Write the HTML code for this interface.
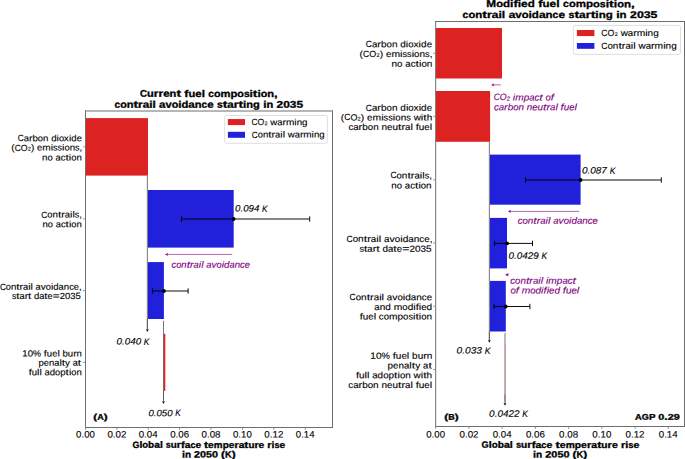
<!DOCTYPE html>
<html><head><meta charset="utf-8"><title>Contrail avoidance chart</title>
<style>html,body{margin:0;padding:0;background:#fff;}svg{display:block;font-family:"Liberation Sans",sans-serif;text-rendering:geometricPrecision;}text{stroke-width:0.12px;paint-order:stroke;}text[font-weight=bold]{stroke-width:0.3px;}</style>
</head><body>
<svg width="685" height="459" viewBox="0 0 685 459" font-family="Liberation Sans, sans-serif"><rect x="85.50" y="118.10" width="62.50" height="57.50" fill="#dd2222"/>
<line x1="147.35" y1="175.60" x2="147.35" y2="330.00" stroke="#777" stroke-width="1.0" />
<rect x="147.90" y="190.00" width="85.80" height="57.60" fill="#2121dc"/>
<line x1="181.50" y1="219.00" x2="309.70" y2="219.00" stroke="#000" stroke-width="0.95" />
<line x1="181.50" y1="216.30" x2="181.50" y2="221.70" stroke="#000" stroke-width="0.95" />
<line x1="309.70" y1="216.30" x2="309.70" y2="221.70" stroke="#000" stroke-width="0.95" />
<circle cx="233.60" cy="219.00" r="1.9" fill="#000"/>
<line x1="232.20" y1="254.40" x2="166.92" y2="254.40" stroke="#800080" stroke-width="0.6" />
<path d="M165.00,254.40 L168.20,252.70 L167.24,254.40 L168.20,256.10 Z" fill="#800080"/>
<rect x="147.90" y="262.10" width="16.00" height="56.90" fill="#2121dc"/>
<line x1="152.40" y1="291.00" x2="188.10" y2="291.00" stroke="#000" stroke-width="0.95" />
<line x1="152.40" y1="288.30" x2="152.40" y2="293.70" stroke="#000" stroke-width="0.95" />
<line x1="188.10" y1="288.30" x2="188.10" y2="293.70" stroke="#000" stroke-width="0.95" />
<circle cx="163.90" cy="291.00" r="1.9" fill="#000"/>
<line x1="147.35" y1="319.00" x2="147.35" y2="330.30" stroke="#555" stroke-width="0.8" />
<path d="M147.35,332.10 L145.85,329.10 L147.35,330.00 L148.85,329.10 Z" fill="#000"/>
<line x1="163.50" y1="320.80" x2="163.50" y2="400.00" stroke="#555" stroke-width="0.8" />
<rect x="163.80" y="333.80" width="1.50" height="57.10" fill="#dd2222"/>
<line x1="163.50" y1="390.90" x2="163.50" y2="402.30" stroke="#555" stroke-width="0.8" />
<path d="M163.50,404.10 L162.00,401.10 L163.50,402.00 L165.00,401.10 Z" fill="#000"/>
<rect x="224.7" y="115.5" width="102.7" height="27.8" rx="1.8" fill="#fff" fill-opacity="0.8" stroke="#d6d6d6" stroke-width="0.8"/>
<rect x="227.90" y="119.05" width="17.10" height="6.05" fill="#dd2222"/>
<rect x="227.90" y="131.80" width="17.10" height="6.00" fill="#2121dc"/>
<rect x="435.70" y="28.00" width="66.30" height="50.50" fill="#dd2222"/>
<line x1="500.90" y1="84.90" x2="493.02" y2="84.90" stroke="#800080" stroke-width="0.6" />
<path d="M491.10,84.90 L494.30,83.20 L493.34,84.90 L494.30,86.60 Z" fill="#800080"/>
<rect x="435.70" y="91.00" width="54.40" height="50.80" fill="#dd2222"/>
<line x1="489.35" y1="141.80" x2="489.35" y2="340.00" stroke="#777" stroke-width="1.0" />
<rect x="489.95" y="154.60" width="90.65" height="50.10" fill="#2121dc"/>
<line x1="525.50" y1="180.00" x2="661.30" y2="180.00" stroke="#000" stroke-width="0.95" />
<line x1="525.50" y1="177.30" x2="525.50" y2="182.70" stroke="#000" stroke-width="0.95" />
<line x1="661.30" y1="177.30" x2="661.30" y2="182.70" stroke="#000" stroke-width="0.95" />
<circle cx="580.60" cy="180.00" r="1.9" fill="#000"/>
<line x1="579.20" y1="211.40" x2="509.82" y2="211.40" stroke="#800080" stroke-width="0.6" />
<path d="M507.90,211.40 L511.10,209.70 L510.14,211.40 L511.10,213.10 Z" fill="#800080"/>
<rect x="489.95" y="217.90" width="17.05" height="50.50" fill="#2121dc"/>
<line x1="494.50" y1="243.40" x2="532.50" y2="243.40" stroke="#000" stroke-width="0.95" />
<line x1="494.50" y1="240.70" x2="494.50" y2="246.10" stroke="#000" stroke-width="0.95" />
<line x1="532.50" y1="240.70" x2="532.50" y2="246.10" stroke="#000" stroke-width="0.95" />
<circle cx="507.00" cy="243.40" r="1.9" fill="#000"/>
<line x1="508.90" y1="274.70" x2="507.16" y2="274.70" stroke="#800080" stroke-width="0.6" />
<path d="M505.00,274.70 L508.60,272.90 L507.52,274.70 L508.60,276.50 Z" fill="#800080"/>
<rect x="489.95" y="280.90" width="15.85" height="50.60" fill="#2121dc"/>
<line x1="494.00" y1="306.50" x2="529.90" y2="306.50" stroke="#000" stroke-width="0.95" />
<line x1="494.00" y1="303.80" x2="494.00" y2="309.20" stroke="#000" stroke-width="0.95" />
<line x1="529.90" y1="303.80" x2="529.90" y2="309.20" stroke="#000" stroke-width="0.95" />
<circle cx="505.70" cy="306.50" r="1.9" fill="#000"/>
<line x1="489.35" y1="331.50" x2="489.35" y2="341.00" stroke="#555" stroke-width="0.8" />
<path d="M489.35,342.80 L487.85,339.80 L489.35,340.70 L490.85,339.80 Z" fill="#000"/>
<line x1="505.00" y1="333.10" x2="505.00" y2="402.00" stroke="#555" stroke-width="0.8" />
<rect x="505.50" y="344.30" width="0.50" height="50.40" fill="#e86a6a"/>
<line x1="505.00" y1="394.70" x2="505.00" y2="403.90" stroke="#555" stroke-width="0.8" />
<path d="M505.00,405.70 L503.50,402.70 L505.00,403.60 L506.50,402.70 Z" fill="#000"/>
<rect x="573.4" y="25.4" width="107.1" height="29.0" rx="1.8" fill="#fff" fill-opacity="0.8" stroke="#d6d6d6" stroke-width="0.8"/>
<rect x="576.90" y="30.00" width="17.50" height="6.10" fill="#dd2222"/>
<rect x="576.90" y="43.00" width="17.50" height="5.80" fill="#2121dc"/>
<line x1="85.50" y1="110.50" x2="85.50" y2="428.00" stroke="#6e6e6e" stroke-width="1.0" />
<line x1="332.50" y1="110.50" x2="332.50" y2="428.00" stroke="#6e6e6e" stroke-width="1.0" />
<line x1="85.00" y1="111.00" x2="333.00" y2="111.00" stroke="#6e6e6e" stroke-width="1.0" />
<line x1="85.00" y1="427.50" x2="333.00" y2="427.50" stroke="#6e6e6e" stroke-width="1.0" />
<line x1="85.50" y1="428.00" x2="85.50" y2="429.90" stroke="#888" stroke-width="0.9" />
<line x1="116.89" y1="428.00" x2="116.89" y2="429.90" stroke="#888" stroke-width="0.9" />
<line x1="148.28" y1="428.00" x2="148.28" y2="429.90" stroke="#888" stroke-width="0.9" />
<line x1="179.67" y1="428.00" x2="179.67" y2="429.90" stroke="#888" stroke-width="0.9" />
<line x1="211.06" y1="428.00" x2="211.06" y2="429.90" stroke="#888" stroke-width="0.9" />
<line x1="242.45" y1="428.00" x2="242.45" y2="429.90" stroke="#888" stroke-width="0.9" />
<line x1="273.84" y1="428.00" x2="273.84" y2="429.90" stroke="#888" stroke-width="0.9" />
<line x1="305.23" y1="428.00" x2="305.23" y2="429.90" stroke="#888" stroke-width="0.9" />
<line x1="83.10" y1="146.85" x2="85.00" y2="146.85" stroke="#888" stroke-width="0.9" />
<line x1="83.10" y1="218.80" x2="85.00" y2="218.80" stroke="#888" stroke-width="0.9" />
<line x1="83.10" y1="290.60" x2="85.00" y2="290.60" stroke="#888" stroke-width="0.9" />
<line x1="83.10" y1="362.40" x2="85.00" y2="362.40" stroke="#888" stroke-width="0.9" />
<line x1="435.70" y1="21.00" x2="435.70" y2="427.00" stroke="#6e6e6e" stroke-width="1.0" />
<line x1="684.50" y1="21.00" x2="684.50" y2="427.00" stroke="#6e6e6e" stroke-width="1.0" />
<line x1="435.20" y1="21.50" x2="685.00" y2="21.50" stroke="#6e6e6e" stroke-width="1.0" />
<line x1="435.20" y1="426.50" x2="685.00" y2="426.50" stroke="#6e6e6e" stroke-width="1.0" />
<line x1="435.70" y1="427.00" x2="435.70" y2="428.90" stroke="#888" stroke-width="0.9" />
<line x1="468.93" y1="427.00" x2="468.93" y2="428.90" stroke="#888" stroke-width="0.9" />
<line x1="502.16" y1="427.00" x2="502.16" y2="428.90" stroke="#888" stroke-width="0.9" />
<line x1="535.39" y1="427.00" x2="535.39" y2="428.90" stroke="#888" stroke-width="0.9" />
<line x1="568.62" y1="427.00" x2="568.62" y2="428.90" stroke="#888" stroke-width="0.9" />
<line x1="601.85" y1="427.00" x2="601.85" y2="428.90" stroke="#888" stroke-width="0.9" />
<line x1="635.08" y1="427.00" x2="635.08" y2="428.90" stroke="#888" stroke-width="0.9" />
<line x1="668.31" y1="427.00" x2="668.31" y2="428.90" stroke="#888" stroke-width="0.9" />
<line x1="433.30" y1="53.30" x2="435.20" y2="53.30" stroke="#888" stroke-width="0.9" />
<line x1="433.30" y1="116.40" x2="435.20" y2="116.40" stroke="#888" stroke-width="0.9" />
<line x1="433.30" y1="179.75" x2="435.20" y2="179.75" stroke="#888" stroke-width="0.9" />
<line x1="433.30" y1="242.95" x2="435.20" y2="242.95" stroke="#888" stroke-width="0.9" />
<line x1="433.30" y1="306.20" x2="435.20" y2="306.20" stroke="#888" stroke-width="0.9" />
<line x1="433.30" y1="369.50" x2="435.20" y2="369.50" stroke="#888" stroke-width="0.9" />
<text transform="matrix(1,0.0005,0,1,0,-0.1043)" y="96.90" font-size="9.8" font-weight="bold" font-style="normal" fill="#000" stroke="#000"><tspan x="139.92" textLength="7.01" lengthAdjust="spacingAndGlyphs">C</tspan><tspan x="146.93" textLength="6.80" lengthAdjust="spacingAndGlyphs">u</tspan><tspan x="153.73" textLength="4.71" lengthAdjust="spacingAndGlyphs">r</tspan><tspan x="158.44" textLength="4.71" lengthAdjust="spacingAndGlyphs">r</tspan><tspan x="163.15" textLength="6.48" lengthAdjust="spacingAndGlyphs">e</tspan><tspan x="169.63" textLength="6.80" lengthAdjust="spacingAndGlyphs">n</tspan><tspan x="176.43" textLength="4.57" lengthAdjust="spacingAndGlyphs">t</tspan> <tspan x="184.32" textLength="4.16" lengthAdjust="spacingAndGlyphs">f</tspan><tspan x="188.48" textLength="6.80" lengthAdjust="spacingAndGlyphs">u</tspan><tspan x="195.28" textLength="6.48" lengthAdjust="spacingAndGlyphs">e</tspan><tspan x="201.76" textLength="3.27" lengthAdjust="spacingAndGlyphs">l</tspan> <tspan x="208.36" textLength="5.66" lengthAdjust="spacingAndGlyphs">c</tspan><tspan x="214.02" textLength="6.56" lengthAdjust="spacingAndGlyphs">o</tspan><tspan x="220.58" textLength="9.95" lengthAdjust="spacingAndGlyphs">m</tspan><tspan x="230.54" textLength="6.84" lengthAdjust="spacingAndGlyphs">p</tspan><tspan x="237.37" textLength="6.56" lengthAdjust="spacingAndGlyphs">o</tspan><tspan x="243.94" textLength="5.69" lengthAdjust="spacingAndGlyphs">s</tspan><tspan x="249.62" textLength="3.27" lengthAdjust="spacingAndGlyphs">i</tspan><tspan x="252.89" textLength="4.57" lengthAdjust="spacingAndGlyphs">t</tspan><tspan x="257.46" textLength="3.27" lengthAdjust="spacingAndGlyphs">i</tspan><tspan x="260.73" textLength="6.56" lengthAdjust="spacingAndGlyphs">o</tspan><tspan x="267.30" textLength="6.80" lengthAdjust="spacingAndGlyphs">n</tspan><tspan x="274.10" textLength="3.63" lengthAdjust="spacingAndGlyphs">,</tspan></text>
<text transform="matrix(1,0.0005,0,1,0,-0.1044)" y="107.70" font-size="9.8" font-weight="bold" font-style="normal" fill="#000" stroke="#000"><tspan x="114.49" textLength="5.66" lengthAdjust="spacingAndGlyphs">c</tspan><tspan x="120.15" textLength="6.56" lengthAdjust="spacingAndGlyphs">o</tspan><tspan x="126.70" textLength="6.79" lengthAdjust="spacingAndGlyphs">n</tspan><tspan x="133.49" textLength="4.56" lengthAdjust="spacingAndGlyphs">t</tspan><tspan x="138.06" textLength="4.71" lengthAdjust="spacingAndGlyphs">r</tspan><tspan x="142.76" textLength="6.44" lengthAdjust="spacingAndGlyphs">a</tspan><tspan x="149.20" textLength="3.27" lengthAdjust="spacingAndGlyphs">i</tspan><tspan x="152.47" textLength="3.27" lengthAdjust="spacingAndGlyphs">l</tspan> <tspan x="159.06" textLength="6.44" lengthAdjust="spacingAndGlyphs">a</tspan><tspan x="165.50" textLength="6.22" lengthAdjust="spacingAndGlyphs">v</tspan><tspan x="171.72" textLength="6.56" lengthAdjust="spacingAndGlyphs">o</tspan><tspan x="178.28" textLength="3.27" lengthAdjust="spacingAndGlyphs">i</tspan><tspan x="181.55" textLength="6.83" lengthAdjust="spacingAndGlyphs">d</tspan><tspan x="188.38" textLength="6.44" lengthAdjust="spacingAndGlyphs">a</tspan><tspan x="194.82" textLength="6.79" lengthAdjust="spacingAndGlyphs">n</tspan><tspan x="201.61" textLength="5.66" lengthAdjust="spacingAndGlyphs">c</tspan><tspan x="207.27" textLength="6.47" lengthAdjust="spacingAndGlyphs">e</tspan> <tspan x="217.06" textLength="5.68" lengthAdjust="spacingAndGlyphs">s</tspan><tspan x="222.74" textLength="4.56" lengthAdjust="spacingAndGlyphs">t</tspan><tspan x="227.30" textLength="6.44" lengthAdjust="spacingAndGlyphs">a</tspan><tspan x="233.74" textLength="4.71" lengthAdjust="spacingAndGlyphs">r</tspan><tspan x="238.45" textLength="4.56" lengthAdjust="spacingAndGlyphs">t</tspan><tspan x="243.01" textLength="3.27" lengthAdjust="spacingAndGlyphs">i</tspan><tspan x="246.28" textLength="6.79" lengthAdjust="spacingAndGlyphs">n</tspan><tspan x="253.07" textLength="6.83" lengthAdjust="spacingAndGlyphs">g</tspan> <tspan x="263.23" textLength="3.27" lengthAdjust="spacingAndGlyphs">i</tspan><tspan x="266.50" textLength="6.79" lengthAdjust="spacingAndGlyphs">n</tspan> <tspan x="276.61" textLength="6.64" lengthAdjust="spacingAndGlyphs">2</tspan><tspan x="283.25" textLength="6.64" lengthAdjust="spacingAndGlyphs">0</tspan><tspan x="289.89" textLength="6.64" lengthAdjust="spacingAndGlyphs">3</tspan><tspan x="296.53" textLength="6.64" lengthAdjust="spacingAndGlyphs">5</tspan></text>
<text transform="matrix(1,0.0005,0,1,0,-0.2802)" y="7.10" font-size="9.8" font-weight="bold" font-style="normal" fill="#000" stroke="#000"><tspan x="486.39" textLength="9.82" lengthAdjust="spacingAndGlyphs">M</tspan><tspan x="496.21" textLength="6.78" lengthAdjust="spacingAndGlyphs">o</tspan><tspan x="502.99" textLength="7.06" lengthAdjust="spacingAndGlyphs">d</tspan><tspan x="510.05" textLength="3.38" lengthAdjust="spacingAndGlyphs">i</tspan><tspan x="513.43" textLength="4.29" lengthAdjust="spacingAndGlyphs">f</tspan><tspan x="517.72" textLength="3.38" lengthAdjust="spacingAndGlyphs">i</tspan><tspan x="521.10" textLength="6.69" lengthAdjust="spacingAndGlyphs">e</tspan><tspan x="527.79" textLength="7.06" lengthAdjust="spacingAndGlyphs">d</tspan> <tspan x="538.29" textLength="4.29" lengthAdjust="spacingAndGlyphs">f</tspan><tspan x="542.58" textLength="7.02" lengthAdjust="spacingAndGlyphs">u</tspan><tspan x="549.61" textLength="6.69" lengthAdjust="spacingAndGlyphs">e</tspan><tspan x="556.30" textLength="3.38" lengthAdjust="spacingAndGlyphs">l</tspan> <tspan x="563.11" textLength="5.85" lengthAdjust="spacingAndGlyphs">c</tspan><tspan x="568.96" textLength="6.78" lengthAdjust="spacingAndGlyphs">o</tspan><tspan x="575.74" textLength="10.28" lengthAdjust="spacingAndGlyphs">m</tspan><tspan x="586.02" textLength="7.06" lengthAdjust="spacingAndGlyphs">p</tspan><tspan x="593.08" textLength="6.78" lengthAdjust="spacingAndGlyphs">o</tspan><tspan x="599.86" textLength="5.87" lengthAdjust="spacingAndGlyphs">s</tspan><tspan x="605.73" textLength="3.38" lengthAdjust="spacingAndGlyphs">i</tspan><tspan x="609.11" textLength="4.72" lengthAdjust="spacingAndGlyphs">t</tspan><tspan x="613.83" textLength="3.38" lengthAdjust="spacingAndGlyphs">i</tspan><tspan x="617.21" textLength="6.78" lengthAdjust="spacingAndGlyphs">o</tspan><tspan x="623.99" textLength="7.02" lengthAdjust="spacingAndGlyphs">n</tspan><tspan x="631.01" textLength="3.75" lengthAdjust="spacingAndGlyphs">,</tspan></text>
<text transform="matrix(1,0.0005,0,1,0,-0.2801)" y="18.00" font-size="9.8" font-weight="bold" font-style="normal" fill="#000" stroke="#000"><tspan x="462.63" textLength="5.84" lengthAdjust="spacingAndGlyphs">c</tspan><tspan x="468.47" textLength="6.77" lengthAdjust="spacingAndGlyphs">o</tspan><tspan x="475.24" textLength="7.02" lengthAdjust="spacingAndGlyphs">n</tspan><tspan x="482.25" textLength="4.71" lengthAdjust="spacingAndGlyphs">t</tspan><tspan x="486.96" textLength="4.86" lengthAdjust="spacingAndGlyphs">r</tspan><tspan x="491.82" textLength="6.65" lengthAdjust="spacingAndGlyphs">a</tspan><tspan x="498.48" textLength="3.38" lengthAdjust="spacingAndGlyphs">i</tspan><tspan x="501.85" textLength="3.38" lengthAdjust="spacingAndGlyphs">l</tspan> <tspan x="508.66" textLength="6.65" lengthAdjust="spacingAndGlyphs">a</tspan><tspan x="515.31" textLength="6.42" lengthAdjust="spacingAndGlyphs">v</tspan><tspan x="521.74" textLength="6.77" lengthAdjust="spacingAndGlyphs">o</tspan><tspan x="528.51" textLength="3.38" lengthAdjust="spacingAndGlyphs">i</tspan><tspan x="531.88" textLength="7.05" lengthAdjust="spacingAndGlyphs">d</tspan><tspan x="538.94" textLength="6.65" lengthAdjust="spacingAndGlyphs">a</tspan><tspan x="545.59" textLength="7.02" lengthAdjust="spacingAndGlyphs">n</tspan><tspan x="552.60" textLength="5.84" lengthAdjust="spacingAndGlyphs">c</tspan><tspan x="558.45" textLength="6.68" lengthAdjust="spacingAndGlyphs">e</tspan> <tspan x="568.56" textLength="5.87" lengthAdjust="spacingAndGlyphs">s</tspan><tspan x="574.43" textLength="4.71" lengthAdjust="spacingAndGlyphs">t</tspan><tspan x="579.14" textLength="6.65" lengthAdjust="spacingAndGlyphs">a</tspan><tspan x="585.79" textLength="4.86" lengthAdjust="spacingAndGlyphs">r</tspan><tspan x="590.65" textLength="4.71" lengthAdjust="spacingAndGlyphs">t</tspan><tspan x="595.36" textLength="3.38" lengthAdjust="spacingAndGlyphs">i</tspan><tspan x="598.74" textLength="7.02" lengthAdjust="spacingAndGlyphs">n</tspan><tspan x="605.75" textLength="7.05" lengthAdjust="spacingAndGlyphs">g</tspan> <tspan x="616.24" textLength="3.38" lengthAdjust="spacingAndGlyphs">i</tspan><tspan x="619.62" textLength="7.02" lengthAdjust="spacingAndGlyphs">n</tspan> <tspan x="630.06" textLength="6.86" lengthAdjust="spacingAndGlyphs">2</tspan><tspan x="636.92" textLength="6.86" lengthAdjust="spacingAndGlyphs">0</tspan><tspan x="643.78" textLength="6.86" lengthAdjust="spacingAndGlyphs">3</tspan><tspan x="650.63" textLength="6.86" lengthAdjust="spacingAndGlyphs">5</tspan></text>
<text transform="matrix(1,0.0005,0,1,0,-0.1398)" y="125.20" font-size="9.0" font-weight="normal" font-style="normal" fill="#000" stroke="#000"><tspan x="251.52" textLength="5.97" lengthAdjust="spacingAndGlyphs">C</tspan><tspan x="257.49" textLength="6.73" lengthAdjust="spacingAndGlyphs">O</tspan><tspan x="264.44" font-size="5.40">2</tspan> <tspan x="270.37" textLength="6.99" lengthAdjust="spacingAndGlyphs">w</tspan><tspan x="277.36" textLength="5.24" lengthAdjust="spacingAndGlyphs">a</tspan><tspan x="282.61" textLength="3.52" lengthAdjust="spacingAndGlyphs">r</tspan><tspan x="285.97" textLength="8.33" lengthAdjust="spacingAndGlyphs">m</tspan><tspan x="294.30" textLength="2.38" lengthAdjust="spacingAndGlyphs">i</tspan><tspan x="296.68" textLength="5.42" lengthAdjust="spacingAndGlyphs">n</tspan><tspan x="302.10" textLength="5.43" lengthAdjust="spacingAndGlyphs">g</tspan></text>
<text transform="matrix(1,0.0005,0,1,0,-0.1440)" y="137.60" font-size="9.0" font-weight="normal" font-style="normal" fill="#000" stroke="#000"><tspan x="251.77" textLength="5.94" lengthAdjust="spacingAndGlyphs">C</tspan><tspan x="257.71" textLength="5.20" lengthAdjust="spacingAndGlyphs">o</tspan><tspan x="262.91" textLength="5.39" lengthAdjust="spacingAndGlyphs">n</tspan><tspan x="268.30" textLength="3.33" lengthAdjust="spacingAndGlyphs">t</tspan><tspan x="271.64" textLength="3.50" lengthAdjust="spacingAndGlyphs">r</tspan><tspan x="275.13" textLength="5.21" lengthAdjust="spacingAndGlyphs">a</tspan><tspan x="280.34" textLength="2.36" lengthAdjust="spacingAndGlyphs">i</tspan><tspan x="282.71" textLength="2.36" lengthAdjust="spacingAndGlyphs">l</tspan> <tspan x="287.77" textLength="6.96" lengthAdjust="spacingAndGlyphs">w</tspan><tspan x="294.73" textLength="5.21" lengthAdjust="spacingAndGlyphs">a</tspan><tspan x="299.94" textLength="3.50" lengthAdjust="spacingAndGlyphs">r</tspan><tspan x="303.29" textLength="8.28" lengthAdjust="spacingAndGlyphs">m</tspan><tspan x="311.57" textLength="2.36" lengthAdjust="spacingAndGlyphs">i</tspan><tspan x="313.94" textLength="5.39" lengthAdjust="spacingAndGlyphs">n</tspan><tspan x="319.33" textLength="5.40" lengthAdjust="spacingAndGlyphs">g</tspan></text>
<text transform="matrix(1,0.0005,0,1,0,-0.3150)" y="36.00" font-size="9.0" font-weight="normal" font-style="normal" fill="#000" stroke="#000"><tspan x="601.36" textLength="6.12" lengthAdjust="spacingAndGlyphs">C</tspan><tspan x="607.48" textLength="6.90" lengthAdjust="spacingAndGlyphs">O</tspan><tspan x="614.63" font-size="5.40">2</tspan> <tspan x="620.67" textLength="7.17" lengthAdjust="spacingAndGlyphs">w</tspan><tspan x="627.84" textLength="5.37" lengthAdjust="spacingAndGlyphs">a</tspan><tspan x="633.21" textLength="3.60" lengthAdjust="spacingAndGlyphs">r</tspan><tspan x="636.66" textLength="8.54" lengthAdjust="spacingAndGlyphs">m</tspan><tspan x="645.20" textLength="2.43" lengthAdjust="spacingAndGlyphs">i</tspan><tspan x="647.63" textLength="5.55" lengthAdjust="spacingAndGlyphs">n</tspan><tspan x="653.18" textLength="5.56" lengthAdjust="spacingAndGlyphs">g</tspan></text>
<text transform="matrix(1,0.0005,0,1,0,-0.3195)" y="48.80" font-size="9.0" font-weight="normal" font-style="normal" fill="#000" stroke="#000"><tspan x="601.36" textLength="6.14" lengthAdjust="spacingAndGlyphs">C</tspan><tspan x="607.49" textLength="5.38" lengthAdjust="spacingAndGlyphs">o</tspan><tspan x="612.87" textLength="5.57" lengthAdjust="spacingAndGlyphs">n</tspan><tspan x="618.44" textLength="3.45" lengthAdjust="spacingAndGlyphs">t</tspan><tspan x="621.89" textLength="3.61" lengthAdjust="spacingAndGlyphs">r</tspan><tspan x="625.50" textLength="5.39" lengthAdjust="spacingAndGlyphs">a</tspan><tspan x="630.89" textLength="2.44" lengthAdjust="spacingAndGlyphs">i</tspan><tspan x="633.33" textLength="2.44" lengthAdjust="spacingAndGlyphs">l</tspan> <tspan x="638.56" textLength="7.19" lengthAdjust="spacingAndGlyphs">w</tspan><tspan x="645.75" textLength="5.39" lengthAdjust="spacingAndGlyphs">a</tspan><tspan x="651.14" textLength="3.61" lengthAdjust="spacingAndGlyphs">r</tspan><tspan x="654.60" textLength="8.56" lengthAdjust="spacingAndGlyphs">m</tspan><tspan x="663.16" textLength="2.44" lengthAdjust="spacingAndGlyphs">i</tspan><tspan x="665.60" textLength="5.57" lengthAdjust="spacingAndGlyphs">n</tspan><tspan x="671.17" textLength="5.58" lengthAdjust="spacingAndGlyphs">g</tspan></text>
<text transform="matrix(1,0.0005,0,1,0,-0.0249)" y="141.30" font-size="9.0" font-weight="normal" font-style="normal" fill="#000" stroke="#000"><tspan x="17.77" textLength="5.95" lengthAdjust="spacingAndGlyphs">C</tspan><tspan x="23.72" textLength="5.22" lengthAdjust="spacingAndGlyphs">a</tspan><tspan x="28.94" textLength="3.50" lengthAdjust="spacingAndGlyphs">r</tspan><tspan x="32.44" textLength="5.41" lengthAdjust="spacingAndGlyphs">b</tspan><tspan x="37.85" textLength="5.21" lengthAdjust="spacingAndGlyphs">o</tspan><tspan x="43.06" textLength="5.40" lengthAdjust="spacingAndGlyphs">n</tspan> <tspan x="51.17" textLength="5.41" lengthAdjust="spacingAndGlyphs">d</tspan><tspan x="56.58" textLength="2.37" lengthAdjust="spacingAndGlyphs">i</tspan><tspan x="58.95" textLength="5.21" lengthAdjust="spacingAndGlyphs">o</tspan><tspan x="63.89" textLength="5.04" lengthAdjust="spacingAndGlyphs">x</tspan><tspan x="68.94" textLength="2.37" lengthAdjust="spacingAndGlyphs">i</tspan><tspan x="71.30" textLength="5.41" lengthAdjust="spacingAndGlyphs">d</tspan><tspan x="76.71" textLength="5.24" lengthAdjust="spacingAndGlyphs">e</tspan></text>
<text transform="matrix(1,0.0005,0,1,0,-0.0234)" y="150.60" font-size="9.0" font-weight="normal" font-style="normal" fill="#000" stroke="#000"><tspan x="11.31" textLength="3.36" lengthAdjust="spacingAndGlyphs">(</tspan><tspan x="14.67" textLength="6.01" lengthAdjust="spacingAndGlyphs">C</tspan><tspan x="20.67" textLength="6.77" lengthAdjust="spacingAndGlyphs">O</tspan><tspan x="27.67" font-size="5.40">2</tspan><tspan x="30.90" textLength="3.36" lengthAdjust="spacingAndGlyphs">)</tspan> <tspan x="36.99" textLength="5.29" lengthAdjust="spacingAndGlyphs">e</tspan><tspan x="42.28" textLength="8.38" lengthAdjust="spacingAndGlyphs">m</tspan><tspan x="50.66" textLength="2.39" lengthAdjust="spacingAndGlyphs">i</tspan><tspan x="53.05" textLength="4.48" lengthAdjust="spacingAndGlyphs">s</tspan><tspan x="57.53" textLength="4.48" lengthAdjust="spacingAndGlyphs">s</tspan><tspan x="62.02" textLength="2.39" lengthAdjust="spacingAndGlyphs">i</tspan><tspan x="64.41" textLength="5.26" lengthAdjust="spacingAndGlyphs">o</tspan><tspan x="69.67" textLength="5.45" lengthAdjust="spacingAndGlyphs">n</tspan><tspan x="75.12" textLength="4.48" lengthAdjust="spacingAndGlyphs">s</tspan><tspan x="79.61" textLength="2.73" lengthAdjust="spacingAndGlyphs">,</tspan></text>
<text transform="matrix(1,0.0005,0,1,0,-0.0310)" y="160.40" font-size="9.0" font-weight="normal" font-style="normal" fill="#000" stroke="#000"><tspan x="42.12" textLength="5.43" lengthAdjust="spacingAndGlyphs">n</tspan><tspan x="47.55" textLength="5.24" lengthAdjust="spacingAndGlyphs">o</tspan> <tspan x="55.51" textLength="5.25" lengthAdjust="spacingAndGlyphs">a</tspan><tspan x="60.76" textLength="4.71" lengthAdjust="spacingAndGlyphs">c</tspan><tspan x="65.47" textLength="3.36" lengthAdjust="spacingAndGlyphs">t</tspan><tspan x="68.83" textLength="2.38" lengthAdjust="spacingAndGlyphs">i</tspan><tspan x="71.21" textLength="5.24" lengthAdjust="spacingAndGlyphs">o</tspan><tspan x="76.45" textLength="5.43" lengthAdjust="spacingAndGlyphs">n</tspan></text>
<text transform="matrix(1,0.0005,0,1,0,-0.0307)" y="217.60" font-size="9.0" font-weight="normal" font-style="normal" fill="#000" stroke="#000"><tspan x="41.37" textLength="5.96" lengthAdjust="spacingAndGlyphs">C</tspan><tspan x="47.34" textLength="5.23" lengthAdjust="spacingAndGlyphs">o</tspan><tspan x="52.56" textLength="5.41" lengthAdjust="spacingAndGlyphs">n</tspan><tspan x="57.98" textLength="3.35" lengthAdjust="spacingAndGlyphs">t</tspan><tspan x="61.33" textLength="3.51" lengthAdjust="spacingAndGlyphs">r</tspan><tspan x="64.84" textLength="5.23" lengthAdjust="spacingAndGlyphs">a</tspan><tspan x="70.07" textLength="2.37" lengthAdjust="spacingAndGlyphs">i</tspan><tspan x="72.45" textLength="2.37" lengthAdjust="spacingAndGlyphs">l</tspan><tspan x="74.82" textLength="4.45" lengthAdjust="spacingAndGlyphs">s</tspan><tspan x="79.27" textLength="2.72" lengthAdjust="spacingAndGlyphs">,</tspan></text>
<text transform="matrix(1,0.0005,0,1,0,-0.0311)" y="227.20" font-size="9.0" font-weight="normal" font-style="normal" fill="#000" stroke="#000"><tspan x="42.48" textLength="5.38" lengthAdjust="spacingAndGlyphs">n</tspan><tspan x="47.86" textLength="5.19" lengthAdjust="spacingAndGlyphs">o</tspan> <tspan x="55.75" textLength="5.20" lengthAdjust="spacingAndGlyphs">a</tspan><tspan x="60.95" textLength="4.67" lengthAdjust="spacingAndGlyphs">c</tspan><tspan x="65.61" textLength="3.33" lengthAdjust="spacingAndGlyphs">t</tspan><tspan x="68.94" textLength="2.36" lengthAdjust="spacingAndGlyphs">i</tspan><tspan x="71.30" textLength="5.19" lengthAdjust="spacingAndGlyphs">o</tspan><tspan x="76.49" textLength="5.38" lengthAdjust="spacingAndGlyphs">n</tspan></text>
<text transform="matrix(1,0.0005,0,1,0,-0.0203)" y="289.80" font-size="9.0" font-weight="normal" font-style="normal" fill="#000" stroke="#000"><tspan x="-0.12" textLength="5.89" lengthAdjust="spacingAndGlyphs">C</tspan><tspan x="5.77" textLength="5.16" lengthAdjust="spacingAndGlyphs">o</tspan><tspan x="10.93" textLength="5.35" lengthAdjust="spacingAndGlyphs">n</tspan><tspan x="16.28" textLength="3.31" lengthAdjust="spacingAndGlyphs">t</tspan><tspan x="19.59" textLength="3.47" lengthAdjust="spacingAndGlyphs">r</tspan><tspan x="23.06" textLength="5.17" lengthAdjust="spacingAndGlyphs">a</tspan><tspan x="28.23" textLength="2.34" lengthAdjust="spacingAndGlyphs">i</tspan><tspan x="30.58" textLength="2.34" lengthAdjust="spacingAndGlyphs">l</tspan> <tspan x="35.61" textLength="5.17" lengthAdjust="spacingAndGlyphs">a</tspan><tspan x="40.78" textLength="4.99" lengthAdjust="spacingAndGlyphs">v</tspan><tspan x="45.77" textLength="5.16" lengthAdjust="spacingAndGlyphs">o</tspan><tspan x="50.94" textLength="2.34" lengthAdjust="spacingAndGlyphs">i</tspan><tspan x="53.28" textLength="5.36" lengthAdjust="spacingAndGlyphs">d</tspan><tspan x="58.64" textLength="5.17" lengthAdjust="spacingAndGlyphs">a</tspan><tspan x="63.81" textLength="5.35" lengthAdjust="spacingAndGlyphs">n</tspan><tspan x="69.16" textLength="4.64" lengthAdjust="spacingAndGlyphs">c</tspan><tspan x="73.80" textLength="5.19" lengthAdjust="spacingAndGlyphs">e</tspan><tspan x="78.99" textLength="2.68" lengthAdjust="spacingAndGlyphs">,</tspan></text>
<text transform="matrix(1,0.0005,0,1,0,-0.0231)" y="299.00" font-size="9.0" font-weight="normal" font-style="normal" fill="#000" stroke="#000"><tspan x="12.00" textLength="4.33" lengthAdjust="spacingAndGlyphs">s</tspan><tspan x="16.32" textLength="3.26" lengthAdjust="spacingAndGlyphs">t</tspan><tspan x="19.58" textLength="5.09" lengthAdjust="spacingAndGlyphs">a</tspan><tspan x="24.66" textLength="3.41" lengthAdjust="spacingAndGlyphs">r</tspan><tspan x="28.08" textLength="3.26" lengthAdjust="spacingAndGlyphs">t</tspan> <tspan x="33.97" textLength="5.27" lengthAdjust="spacingAndGlyphs">d</tspan><tspan x="39.24" textLength="5.09" lengthAdjust="spacingAndGlyphs">a</tspan><tspan x="44.33" textLength="3.26" lengthAdjust="spacingAndGlyphs">t</tspan><tspan x="47.59" textLength="5.11" lengthAdjust="spacingAndGlyphs">e</tspan><tspan x="52.69" textLength="6.96" lengthAdjust="spacingAndGlyphs">=</tspan><tspan x="59.65" textLength="5.28" lengthAdjust="spacingAndGlyphs">2</tspan><tspan x="64.93" textLength="5.28" lengthAdjust="spacingAndGlyphs">0</tspan><tspan x="70.21" textLength="5.28" lengthAdjust="spacingAndGlyphs">3</tspan><tspan x="75.50" textLength="5.28" lengthAdjust="spacingAndGlyphs">5</tspan></text>
<text transform="matrix(1,0.0005,0,1,0,-0.0260)" y="356.60" font-size="9.0" font-weight="normal" font-style="normal" fill="#000" stroke="#000"><tspan x="22.37" textLength="5.38" lengthAdjust="spacingAndGlyphs">1</tspan><tspan x="27.75" textLength="5.38" lengthAdjust="spacingAndGlyphs">0</tspan><tspan x="33.13" textLength="8.04" lengthAdjust="spacingAndGlyphs">%</tspan> <tspan x="43.86" textLength="2.98" lengthAdjust="spacingAndGlyphs">f</tspan><tspan x="46.84" textLength="5.36" lengthAdjust="spacingAndGlyphs">u</tspan><tspan x="52.20" textLength="5.20" lengthAdjust="spacingAndGlyphs">e</tspan><tspan x="57.41" textLength="2.35" lengthAdjust="spacingAndGlyphs">l</tspan> <tspan x="62.44" textLength="5.37" lengthAdjust="spacingAndGlyphs">b</tspan><tspan x="67.81" textLength="5.36" lengthAdjust="spacingAndGlyphs">u</tspan><tspan x="73.18" textLength="3.48" lengthAdjust="spacingAndGlyphs">r</tspan><tspan x="76.51" textLength="5.36" lengthAdjust="spacingAndGlyphs">n</tspan></text>
<text transform="matrix(1,0.0005,0,1,0,-0.0301)" y="365.80" font-size="9.0" font-weight="normal" font-style="normal" fill="#000" stroke="#000"><tspan x="38.49" textLength="5.32" lengthAdjust="spacingAndGlyphs">p</tspan><tspan x="43.81" textLength="5.16" lengthAdjust="spacingAndGlyphs">e</tspan><tspan x="48.97" textLength="5.32" lengthAdjust="spacingAndGlyphs">n</tspan><tspan x="54.29" textLength="5.14" lengthAdjust="spacingAndGlyphs">a</tspan><tspan x="59.43" textLength="2.33" lengthAdjust="spacingAndGlyphs">l</tspan><tspan x="61.76" textLength="3.29" lengthAdjust="spacingAndGlyphs">t</tspan><tspan x="65.05" textLength="4.96" lengthAdjust="spacingAndGlyphs">y</tspan> <tspan x="72.68" textLength="5.14" lengthAdjust="spacingAndGlyphs">a</tspan><tspan x="77.82" textLength="3.29" lengthAdjust="spacingAndGlyphs">t</tspan></text>
<text transform="matrix(1,0.0005,0,1,0,-0.0275)" y="375.20" font-size="9.0" font-weight="normal" font-style="normal" fill="#000" stroke="#000"><tspan x="28.70" textLength="2.99" lengthAdjust="spacingAndGlyphs">f</tspan><tspan x="31.69" textLength="5.37" lengthAdjust="spacingAndGlyphs">u</tspan><tspan x="37.06" textLength="2.36" lengthAdjust="spacingAndGlyphs">l</tspan><tspan x="39.42" textLength="2.36" lengthAdjust="spacingAndGlyphs">l</tspan> <tspan x="44.47" textLength="5.20" lengthAdjust="spacingAndGlyphs">a</tspan><tspan x="49.67" textLength="5.38" lengthAdjust="spacingAndGlyphs">d</tspan><tspan x="55.05" textLength="5.19" lengthAdjust="spacingAndGlyphs">o</tspan><tspan x="60.24" textLength="5.38" lengthAdjust="spacingAndGlyphs">p</tspan><tspan x="65.63" textLength="3.33" lengthAdjust="spacingAndGlyphs">t</tspan><tspan x="68.95" textLength="2.36" lengthAdjust="spacingAndGlyphs">i</tspan><tspan x="71.31" textLength="5.19" lengthAdjust="spacingAndGlyphs">o</tspan><tspan x="76.50" textLength="5.37" lengthAdjust="spacingAndGlyphs">n</tspan></text>
<text transform="matrix(1,0.0005,0,1,0,-0.1995)" y="47.20" font-size="9.0" font-weight="normal" font-style="normal" fill="#000" stroke="#000"><tspan x="365.86" textLength="6.14" lengthAdjust="spacingAndGlyphs">C</tspan><tspan x="371.99" textLength="5.39" lengthAdjust="spacingAndGlyphs">a</tspan><tspan x="377.38" textLength="3.61" lengthAdjust="spacingAndGlyphs">r</tspan><tspan x="380.99" textLength="5.58" lengthAdjust="spacingAndGlyphs">b</tspan><tspan x="386.57" textLength="5.38" lengthAdjust="spacingAndGlyphs">o</tspan><tspan x="391.95" textLength="5.57" lengthAdjust="spacingAndGlyphs">n</tspan> <tspan x="400.31" textLength="5.58" lengthAdjust="spacingAndGlyphs">d</tspan><tspan x="405.89" textLength="2.44" lengthAdjust="spacingAndGlyphs">i</tspan><tspan x="408.34" textLength="5.38" lengthAdjust="spacingAndGlyphs">o</tspan><tspan x="413.44" textLength="5.20" lengthAdjust="spacingAndGlyphs">x</tspan><tspan x="418.64" textLength="2.44" lengthAdjust="spacingAndGlyphs">i</tspan><tspan x="421.08" textLength="5.58" lengthAdjust="spacingAndGlyphs">d</tspan><tspan x="426.66" textLength="5.41" lengthAdjust="spacingAndGlyphs">e</tspan></text>
<text transform="matrix(1,0.0005,0,1,0,-0.1980)" y="57.10" font-size="9.0" font-weight="normal" font-style="normal" fill="#000" stroke="#000"><tspan x="359.64" textLength="3.44" lengthAdjust="spacingAndGlyphs">(</tspan><tspan x="363.08" textLength="6.16" lengthAdjust="spacingAndGlyphs">C</tspan><tspan x="369.25" textLength="6.95" lengthAdjust="spacingAndGlyphs">O</tspan><tspan x="376.46" font-size="5.40">2</tspan><tspan x="379.73" textLength="3.44" lengthAdjust="spacingAndGlyphs">)</tspan> <tspan x="385.98" textLength="5.43" lengthAdjust="spacingAndGlyphs">e</tspan><tspan x="391.41" textLength="8.60" lengthAdjust="spacingAndGlyphs">m</tspan><tspan x="400.01" textLength="2.45" lengthAdjust="spacingAndGlyphs">i</tspan><tspan x="402.46" textLength="4.60" lengthAdjust="spacingAndGlyphs">s</tspan><tspan x="407.06" textLength="4.60" lengthAdjust="spacingAndGlyphs">s</tspan><tspan x="411.66" textLength="2.45" lengthAdjust="spacingAndGlyphs">i</tspan><tspan x="414.11" textLength="5.40" lengthAdjust="spacingAndGlyphs">o</tspan><tspan x="419.51" textLength="5.59" lengthAdjust="spacingAndGlyphs">n</tspan><tspan x="425.11" textLength="4.60" lengthAdjust="spacingAndGlyphs">s</tspan><tspan x="429.71" textLength="2.81" lengthAdjust="spacingAndGlyphs">,</tspan></text>
<text transform="matrix(1,0.0005,0,1,0,-0.2059)" y="66.70" font-size="9.0" font-weight="normal" font-style="normal" fill="#000" stroke="#000"><tspan x="391.45" textLength="5.59" lengthAdjust="spacingAndGlyphs">n</tspan><tspan x="397.04" textLength="5.40" lengthAdjust="spacingAndGlyphs">o</tspan> <tspan x="405.24" textLength="5.41" lengthAdjust="spacingAndGlyphs">a</tspan><tspan x="410.65" textLength="4.85" lengthAdjust="spacingAndGlyphs">c</tspan><tspan x="415.50" textLength="3.46" lengthAdjust="spacingAndGlyphs">t</tspan><tspan x="418.96" textLength="2.45" lengthAdjust="spacingAndGlyphs">i</tspan><tspan x="421.41" textLength="5.40" lengthAdjust="spacingAndGlyphs">o</tspan><tspan x="426.81" textLength="5.59" lengthAdjust="spacingAndGlyphs">n</tspan></text>
<text transform="matrix(1,0.0005,0,1,0,-0.1995)" y="110.70" font-size="9.0" font-weight="normal" font-style="normal" fill="#000" stroke="#000"><tspan x="365.86" textLength="6.14" lengthAdjust="spacingAndGlyphs">C</tspan><tspan x="372.00" textLength="5.39" lengthAdjust="spacingAndGlyphs">a</tspan><tspan x="377.39" textLength="3.62" lengthAdjust="spacingAndGlyphs">r</tspan><tspan x="381.00" textLength="5.58" lengthAdjust="spacingAndGlyphs">b</tspan><tspan x="386.59" textLength="5.38" lengthAdjust="spacingAndGlyphs">o</tspan><tspan x="391.97" textLength="5.57" lengthAdjust="spacingAndGlyphs">n</tspan> <tspan x="400.34" textLength="5.58" lengthAdjust="spacingAndGlyphs">d</tspan><tspan x="405.92" textLength="2.44" lengthAdjust="spacingAndGlyphs">i</tspan><tspan x="408.37" textLength="5.38" lengthAdjust="spacingAndGlyphs">o</tspan><tspan x="413.47" textLength="5.21" lengthAdjust="spacingAndGlyphs">x</tspan><tspan x="418.68" textLength="2.44" lengthAdjust="spacingAndGlyphs">i</tspan><tspan x="421.12" textLength="5.58" lengthAdjust="spacingAndGlyphs">d</tspan><tspan x="426.71" textLength="5.41" lengthAdjust="spacingAndGlyphs">e</tspan></text>
<text transform="matrix(1,0.0005,0,1,0,-0.1933)" y="120.50" font-size="9.0" font-weight="normal" font-style="normal" fill="#000" stroke="#000"><tspan x="340.79" textLength="3.44" lengthAdjust="spacingAndGlyphs">(</tspan><tspan x="344.24" textLength="6.16" lengthAdjust="spacingAndGlyphs">C</tspan><tspan x="350.40" textLength="6.95" lengthAdjust="spacingAndGlyphs">O</tspan><tspan x="357.61" font-size="5.40">2</tspan><tspan x="360.89" textLength="3.44" lengthAdjust="spacingAndGlyphs">)</tspan> <tspan x="367.14" textLength="5.43" lengthAdjust="spacingAndGlyphs">e</tspan><tspan x="372.57" textLength="8.60" lengthAdjust="spacingAndGlyphs">m</tspan><tspan x="381.17" textLength="2.45" lengthAdjust="spacingAndGlyphs">i</tspan><tspan x="383.62" textLength="4.60" lengthAdjust="spacingAndGlyphs">s</tspan><tspan x="388.22" textLength="4.60" lengthAdjust="spacingAndGlyphs">s</tspan><tspan x="392.82" textLength="2.45" lengthAdjust="spacingAndGlyphs">i</tspan><tspan x="395.27" textLength="5.40" lengthAdjust="spacingAndGlyphs">o</tspan><tspan x="400.67" textLength="5.59" lengthAdjust="spacingAndGlyphs">n</tspan><tspan x="406.27" textLength="4.60" lengthAdjust="spacingAndGlyphs">s</tspan> <tspan x="413.67" textLength="7.22" lengthAdjust="spacingAndGlyphs">w</tspan><tspan x="420.89" textLength="2.45" lengthAdjust="spacingAndGlyphs">i</tspan><tspan x="423.34" textLength="3.46" lengthAdjust="spacingAndGlyphs">t</tspan><tspan x="426.80" textLength="5.59" lengthAdjust="spacingAndGlyphs">h</tspan></text>
<text transform="matrix(1,0.0005,0,1,0,-0.1951)" y="130.00" font-size="9.0" font-weight="normal" font-style="normal" fill="#000" stroke="#000"><tspan x="348.41" textLength="4.83" lengthAdjust="spacingAndGlyphs">c</tspan><tspan x="353.24" textLength="5.38" lengthAdjust="spacingAndGlyphs">a</tspan><tspan x="358.62" textLength="3.61" lengthAdjust="spacingAndGlyphs">r</tspan><tspan x="362.23" textLength="5.57" lengthAdjust="spacingAndGlyphs">b</tspan><tspan x="367.81" textLength="5.37" lengthAdjust="spacingAndGlyphs">o</tspan><tspan x="373.18" textLength="5.56" lengthAdjust="spacingAndGlyphs">n</tspan> <tspan x="381.53" textLength="5.56" lengthAdjust="spacingAndGlyphs">n</tspan><tspan x="387.10" textLength="5.40" lengthAdjust="spacingAndGlyphs">e</tspan><tspan x="392.50" textLength="5.56" lengthAdjust="spacingAndGlyphs">u</tspan><tspan x="398.06" textLength="3.44" lengthAdjust="spacingAndGlyphs">t</tspan><tspan x="401.51" textLength="3.61" lengthAdjust="spacingAndGlyphs">r</tspan><tspan x="405.12" textLength="5.38" lengthAdjust="spacingAndGlyphs">a</tspan><tspan x="410.50" textLength="2.44" lengthAdjust="spacingAndGlyphs">l</tspan> <tspan x="415.73" textLength="3.09" lengthAdjust="spacingAndGlyphs">f</tspan><tspan x="418.82" textLength="5.56" lengthAdjust="spacingAndGlyphs">u</tspan><tspan x="424.38" textLength="5.40" lengthAdjust="spacingAndGlyphs">e</tspan><tspan x="429.79" textLength="2.44" lengthAdjust="spacingAndGlyphs">l</tspan></text>
<text transform="matrix(1,0.0005,0,1,0,-0.2055)" y="178.50" font-size="9.0" font-weight="normal" font-style="normal" fill="#000" stroke="#000"><tspan x="390.41" textLength="6.11" lengthAdjust="spacingAndGlyphs">C</tspan><tspan x="396.52" textLength="5.35" lengthAdjust="spacingAndGlyphs">o</tspan><tspan x="401.87" textLength="5.55" lengthAdjust="spacingAndGlyphs">n</tspan><tspan x="407.42" textLength="3.43" lengthAdjust="spacingAndGlyphs">t</tspan><tspan x="410.85" textLength="3.60" lengthAdjust="spacingAndGlyphs">r</tspan><tspan x="414.44" textLength="5.36" lengthAdjust="spacingAndGlyphs">a</tspan><tspan x="419.80" textLength="2.43" lengthAdjust="spacingAndGlyphs">i</tspan><tspan x="422.23" textLength="2.43" lengthAdjust="spacingAndGlyphs">l</tspan><tspan x="424.67" textLength="4.56" lengthAdjust="spacingAndGlyphs">s</tspan><tspan x="429.22" textLength="2.78" lengthAdjust="spacingAndGlyphs">,</tspan></text>
<text transform="matrix(1,0.0005,0,1,0,-0.2058)" y="188.40" font-size="9.0" font-weight="normal" font-style="normal" fill="#000" stroke="#000"><tspan x="391.31" textLength="5.51" lengthAdjust="spacingAndGlyphs">n</tspan><tspan x="396.81" textLength="5.32" lengthAdjust="spacingAndGlyphs">o</tspan> <tspan x="404.89" textLength="5.33" lengthAdjust="spacingAndGlyphs">a</tspan><tspan x="410.22" textLength="4.78" lengthAdjust="spacingAndGlyphs">c</tspan><tspan x="415.00" textLength="3.41" lengthAdjust="spacingAndGlyphs">t</tspan><tspan x="418.40" textLength="2.41" lengthAdjust="spacingAndGlyphs">i</tspan><tspan x="420.82" textLength="5.32" lengthAdjust="spacingAndGlyphs">o</tspan><tspan x="426.13" textLength="5.51" lengthAdjust="spacingAndGlyphs">n</tspan></text>
<text transform="matrix(1,0.0005,0,1,0,-0.1947)" y="241.90" font-size="9.0" font-weight="normal" font-style="normal" fill="#000" stroke="#000"><tspan x="346.50" textLength="6.20" lengthAdjust="spacingAndGlyphs">C</tspan><tspan x="352.70" textLength="5.43" lengthAdjust="spacingAndGlyphs">o</tspan><tspan x="358.13" textLength="5.62" lengthAdjust="spacingAndGlyphs">n</tspan><tspan x="363.75" textLength="3.48" lengthAdjust="spacingAndGlyphs">t</tspan><tspan x="367.23" textLength="3.65" lengthAdjust="spacingAndGlyphs">r</tspan><tspan x="370.88" textLength="5.44" lengthAdjust="spacingAndGlyphs">a</tspan><tspan x="376.32" textLength="2.47" lengthAdjust="spacingAndGlyphs">i</tspan><tspan x="378.79" textLength="2.47" lengthAdjust="spacingAndGlyphs">l</tspan> <tspan x="384.07" textLength="5.44" lengthAdjust="spacingAndGlyphs">a</tspan><tspan x="389.51" textLength="5.25" lengthAdjust="spacingAndGlyphs">v</tspan><tspan x="394.76" textLength="5.43" lengthAdjust="spacingAndGlyphs">o</tspan><tspan x="400.19" textLength="2.47" lengthAdjust="spacingAndGlyphs">i</tspan><tspan x="402.66" textLength="5.63" lengthAdjust="spacingAndGlyphs">d</tspan><tspan x="408.29" textLength="5.44" lengthAdjust="spacingAndGlyphs">a</tspan><tspan x="413.73" textLength="5.62" lengthAdjust="spacingAndGlyphs">n</tspan><tspan x="419.36" textLength="4.88" lengthAdjust="spacingAndGlyphs">c</tspan><tspan x="424.24" textLength="5.46" lengthAdjust="spacingAndGlyphs">e</tspan><tspan x="429.70" textLength="2.82" lengthAdjust="spacingAndGlyphs">,</tspan></text>
<text transform="matrix(1,0.0005,0,1,0,-0.1977)" y="251.80" font-size="9.0" font-weight="normal" font-style="normal" fill="#000" stroke="#000"><tspan x="359.43" textLength="4.54" lengthAdjust="spacingAndGlyphs">s</tspan><tspan x="363.97" textLength="3.42" lengthAdjust="spacingAndGlyphs">t</tspan><tspan x="367.39" textLength="5.34" lengthAdjust="spacingAndGlyphs">a</tspan><tspan x="372.73" textLength="3.58" lengthAdjust="spacingAndGlyphs">r</tspan><tspan x="376.32" textLength="3.42" lengthAdjust="spacingAndGlyphs">t</tspan> <tspan x="382.51" textLength="5.53" lengthAdjust="spacingAndGlyphs">d</tspan><tspan x="388.04" textLength="5.34" lengthAdjust="spacingAndGlyphs">a</tspan><tspan x="393.38" textLength="3.42" lengthAdjust="spacingAndGlyphs">t</tspan><tspan x="396.80" textLength="5.36" lengthAdjust="spacingAndGlyphs">e</tspan><tspan x="402.17" textLength="7.31" lengthAdjust="spacingAndGlyphs">=</tspan><tspan x="409.47" textLength="5.55" lengthAdjust="spacingAndGlyphs">2</tspan><tspan x="415.02" textLength="5.55" lengthAdjust="spacingAndGlyphs">0</tspan><tspan x="420.57" textLength="5.55" lengthAdjust="spacingAndGlyphs">3</tspan><tspan x="426.12" textLength="5.55" lengthAdjust="spacingAndGlyphs">5</tspan></text>
<text transform="matrix(1,0.0005,0,1,0,-0.1954)" y="300.20" font-size="9.0" font-weight="normal" font-style="normal" fill="#000" stroke="#000"><tspan x="349.56" textLength="6.15" lengthAdjust="spacingAndGlyphs">C</tspan><tspan x="355.71" textLength="5.39" lengthAdjust="spacingAndGlyphs">o</tspan><tspan x="361.09" textLength="5.58" lengthAdjust="spacingAndGlyphs">n</tspan><tspan x="366.68" textLength="3.45" lengthAdjust="spacingAndGlyphs">t</tspan><tspan x="370.13" textLength="3.62" lengthAdjust="spacingAndGlyphs">r</tspan><tspan x="373.75" textLength="5.40" lengthAdjust="spacingAndGlyphs">a</tspan><tspan x="379.15" textLength="2.45" lengthAdjust="spacingAndGlyphs">i</tspan><tspan x="381.60" textLength="2.45" lengthAdjust="spacingAndGlyphs">l</tspan> <tspan x="386.84" textLength="5.40" lengthAdjust="spacingAndGlyphs">a</tspan><tspan x="392.24" textLength="5.21" lengthAdjust="spacingAndGlyphs">v</tspan><tspan x="397.45" textLength="5.39" lengthAdjust="spacingAndGlyphs">o</tspan><tspan x="402.84" textLength="2.45" lengthAdjust="spacingAndGlyphs">i</tspan><tspan x="405.29" textLength="5.59" lengthAdjust="spacingAndGlyphs">d</tspan><tspan x="410.88" textLength="5.40" lengthAdjust="spacingAndGlyphs">a</tspan><tspan x="416.28" textLength="5.58" lengthAdjust="spacingAndGlyphs">n</tspan><tspan x="421.86" textLength="4.84" lengthAdjust="spacingAndGlyphs">c</tspan><tspan x="426.70" textLength="5.42" lengthAdjust="spacingAndGlyphs">e</tspan></text>
<text transform="matrix(1,0.0005,0,1,0,-0.2016)" y="310.00" font-size="9.0" font-weight="normal" font-style="normal" fill="#000" stroke="#000"><tspan x="374.37" textLength="5.39" lengthAdjust="spacingAndGlyphs">a</tspan><tspan x="379.76" textLength="5.57" lengthAdjust="spacingAndGlyphs">n</tspan><tspan x="385.33" textLength="5.58" lengthAdjust="spacingAndGlyphs">d</tspan> <tspan x="393.71" textLength="8.56" lengthAdjust="spacingAndGlyphs">m</tspan><tspan x="402.27" textLength="5.38" lengthAdjust="spacingAndGlyphs">o</tspan><tspan x="407.65" textLength="5.58" lengthAdjust="spacingAndGlyphs">d</tspan><tspan x="413.23" textLength="2.44" lengthAdjust="spacingAndGlyphs">i</tspan><tspan x="415.67" textLength="3.10" lengthAdjust="spacingAndGlyphs">f</tspan><tspan x="418.77" textLength="2.44" lengthAdjust="spacingAndGlyphs">i</tspan><tspan x="421.21" textLength="5.41" lengthAdjust="spacingAndGlyphs">e</tspan><tspan x="426.62" textLength="5.58" lengthAdjust="spacingAndGlyphs">d</tspan></text>
<text transform="matrix(1,0.0005,0,1,0,-0.1978)" y="319.60" font-size="9.0" font-weight="normal" font-style="normal" fill="#000" stroke="#000"><tspan x="359.70" textLength="3.08" lengthAdjust="spacingAndGlyphs">f</tspan><tspan x="362.77" textLength="5.54" lengthAdjust="spacingAndGlyphs">u</tspan><tspan x="368.31" textLength="5.37" lengthAdjust="spacingAndGlyphs">e</tspan><tspan x="373.68" textLength="2.43" lengthAdjust="spacingAndGlyphs">l</tspan> <tspan x="378.89" textLength="4.80" lengthAdjust="spacingAndGlyphs">c</tspan><tspan x="383.69" textLength="5.34" lengthAdjust="spacingAndGlyphs">o</tspan><tspan x="389.03" textLength="8.51" lengthAdjust="spacingAndGlyphs">m</tspan><tspan x="397.54" textLength="5.54" lengthAdjust="spacingAndGlyphs">p</tspan><tspan x="403.09" textLength="5.34" lengthAdjust="spacingAndGlyphs">o</tspan><tspan x="408.43" textLength="4.55" lengthAdjust="spacingAndGlyphs">s</tspan><tspan x="412.98" textLength="2.43" lengthAdjust="spacingAndGlyphs">i</tspan><tspan x="415.41" textLength="3.43" lengthAdjust="spacingAndGlyphs">t</tspan><tspan x="418.84" textLength="2.43" lengthAdjust="spacingAndGlyphs">i</tspan><tspan x="421.26" textLength="5.34" lengthAdjust="spacingAndGlyphs">o</tspan><tspan x="426.61" textLength="5.54" lengthAdjust="spacingAndGlyphs">n</tspan></text>
<text transform="matrix(1,0.0005,0,1,0,-0.2006)" y="358.80" font-size="9.0" font-weight="normal" font-style="normal" fill="#000" stroke="#000"><tspan x="370.33" textLength="5.62" lengthAdjust="spacingAndGlyphs">1</tspan><tspan x="375.94" textLength="5.62" lengthAdjust="spacingAndGlyphs">0</tspan><tspan x="381.56" textLength="8.39" lengthAdjust="spacingAndGlyphs">%</tspan> <tspan x="392.75" textLength="3.11" lengthAdjust="spacingAndGlyphs">f</tspan><tspan x="395.86" textLength="5.59" lengthAdjust="spacingAndGlyphs">u</tspan><tspan x="401.45" textLength="5.43" lengthAdjust="spacingAndGlyphs">e</tspan><tspan x="406.88" textLength="2.45" lengthAdjust="spacingAndGlyphs">l</tspan> <tspan x="412.14" textLength="5.60" lengthAdjust="spacingAndGlyphs">b</tspan><tspan x="417.74" textLength="5.59" lengthAdjust="spacingAndGlyphs">u</tspan><tspan x="423.33" textLength="3.63" lengthAdjust="spacingAndGlyphs">r</tspan><tspan x="426.81" textLength="5.59" lengthAdjust="spacingAndGlyphs">n</tspan></text>
<text transform="matrix(1,0.0005,0,1,0,-0.2050)" y="368.50" font-size="9.0" font-weight="normal" font-style="normal" fill="#000" stroke="#000"><tspan x="387.61" textLength="5.53" lengthAdjust="spacingAndGlyphs">p</tspan><tspan x="393.14" textLength="5.36" lengthAdjust="spacingAndGlyphs">e</tspan><tspan x="398.49" textLength="5.52" lengthAdjust="spacingAndGlyphs">n</tspan><tspan x="404.01" textLength="5.34" lengthAdjust="spacingAndGlyphs">a</tspan><tspan x="409.35" textLength="2.42" lengthAdjust="spacingAndGlyphs">l</tspan><tspan x="411.77" textLength="3.41" lengthAdjust="spacingAndGlyphs">t</tspan><tspan x="415.19" textLength="5.15" lengthAdjust="spacingAndGlyphs">y</tspan> <tspan x="423.11" textLength="5.34" lengthAdjust="spacingAndGlyphs">a</tspan><tspan x="428.44" textLength="3.41" lengthAdjust="spacingAndGlyphs">t</tspan></text>
<text transform="matrix(1,0.0005,0,1,0,-0.1969)" y="378.20" font-size="9.0" font-weight="normal" font-style="normal" fill="#000" stroke="#000"><tspan x="356.00" textLength="3.08" lengthAdjust="spacingAndGlyphs">f</tspan><tspan x="359.08" textLength="5.54" lengthAdjust="spacingAndGlyphs">u</tspan><tspan x="364.62" textLength="2.43" lengthAdjust="spacingAndGlyphs">l</tspan><tspan x="367.05" textLength="2.43" lengthAdjust="spacingAndGlyphs">l</tspan> <tspan x="372.26" textLength="5.36" lengthAdjust="spacingAndGlyphs">a</tspan><tspan x="377.61" textLength="5.55" lengthAdjust="spacingAndGlyphs">d</tspan><tspan x="383.16" textLength="5.35" lengthAdjust="spacingAndGlyphs">o</tspan><tspan x="388.51" textLength="5.55" lengthAdjust="spacingAndGlyphs">p</tspan><tspan x="394.06" textLength="3.43" lengthAdjust="spacingAndGlyphs">t</tspan><tspan x="397.49" textLength="2.43" lengthAdjust="spacingAndGlyphs">i</tspan><tspan x="399.92" textLength="5.35" lengthAdjust="spacingAndGlyphs">o</tspan><tspan x="405.27" textLength="5.54" lengthAdjust="spacingAndGlyphs">n</tspan> <tspan x="413.59" textLength="7.15" lengthAdjust="spacingAndGlyphs">w</tspan><tspan x="420.74" textLength="2.43" lengthAdjust="spacingAndGlyphs">i</tspan><tspan x="423.17" textLength="3.43" lengthAdjust="spacingAndGlyphs">t</tspan><tspan x="426.60" textLength="5.54" lengthAdjust="spacingAndGlyphs">h</tspan></text>
<text transform="matrix(1,0.0005,0,1,0,-0.1951)" y="388.00" font-size="9.0" font-weight="normal" font-style="normal" fill="#000" stroke="#000"><tspan x="348.37" textLength="4.83" lengthAdjust="spacingAndGlyphs">c</tspan><tspan x="353.20" textLength="5.38" lengthAdjust="spacingAndGlyphs">a</tspan><tspan x="358.58" textLength="3.61" lengthAdjust="spacingAndGlyphs">r</tspan><tspan x="362.19" textLength="5.58" lengthAdjust="spacingAndGlyphs">b</tspan><tspan x="367.77" textLength="5.38" lengthAdjust="spacingAndGlyphs">o</tspan><tspan x="373.14" textLength="5.57" lengthAdjust="spacingAndGlyphs">n</tspan> <tspan x="381.50" textLength="5.57" lengthAdjust="spacingAndGlyphs">n</tspan><tspan x="387.07" textLength="5.41" lengthAdjust="spacingAndGlyphs">e</tspan><tspan x="392.48" textLength="5.57" lengthAdjust="spacingAndGlyphs">u</tspan><tspan x="398.04" textLength="3.44" lengthAdjust="spacingAndGlyphs">t</tspan><tspan x="401.49" textLength="3.61" lengthAdjust="spacingAndGlyphs">r</tspan><tspan x="405.10" textLength="5.38" lengthAdjust="spacingAndGlyphs">a</tspan><tspan x="410.48" textLength="2.44" lengthAdjust="spacingAndGlyphs">l</tspan> <tspan x="415.72" textLength="3.09" lengthAdjust="spacingAndGlyphs">f</tspan><tspan x="418.81" textLength="5.57" lengthAdjust="spacingAndGlyphs">u</tspan><tspan x="424.38" textLength="5.41" lengthAdjust="spacingAndGlyphs">e</tspan><tspan x="429.78" textLength="2.44" lengthAdjust="spacingAndGlyphs">l</tspan></text>
<text transform="matrix(1,0.0005,0,1,0,-0.1258)" y="211.50" font-size="9.4" font-weight="normal" font-style="italic" fill="#000" stroke="#000"><tspan x="235.13" textLength="5.37" lengthAdjust="spacingAndGlyphs">0</tspan><tspan x="240.50" textLength="2.69" lengthAdjust="spacingAndGlyphs">.</tspan><tspan x="243.19" textLength="5.37" lengthAdjust="spacingAndGlyphs">0</tspan><tspan x="248.56" textLength="5.37" lengthAdjust="spacingAndGlyphs">9</tspan><tspan x="253.94" textLength="5.37" lengthAdjust="spacingAndGlyphs">4</tspan> <tspan x="262.00" textLength="5.54" lengthAdjust="spacingAndGlyphs">K</tspan></text>
<text transform="matrix(1,0.0005,0,1,0,-0.1054)" y="267.80" font-size="9.4" font-weight="normal" font-style="italic" fill="#800080" stroke="#800080"><tspan x="171.46" textLength="4.68" lengthAdjust="spacingAndGlyphs">c</tspan><tspan x="176.14" textLength="5.21" lengthAdjust="spacingAndGlyphs">o</tspan><tspan x="181.35" textLength="5.39" lengthAdjust="spacingAndGlyphs">n</tspan><tspan x="186.74" textLength="3.34" lengthAdjust="spacingAndGlyphs">t</tspan><tspan x="190.08" textLength="3.50" lengthAdjust="spacingAndGlyphs">r</tspan><tspan x="193.58" textLength="5.22" lengthAdjust="spacingAndGlyphs">a</tspan><tspan x="198.79" textLength="2.36" lengthAdjust="spacingAndGlyphs">i</tspan><tspan x="201.16" textLength="2.36" lengthAdjust="spacingAndGlyphs">l</tspan> <tspan x="206.23" textLength="5.22" lengthAdjust="spacingAndGlyphs">a</tspan><tspan x="211.44" textLength="5.04" lengthAdjust="spacingAndGlyphs">v</tspan><tspan x="216.48" textLength="5.21" lengthAdjust="spacingAndGlyphs">o</tspan><tspan x="221.69" textLength="2.36" lengthAdjust="spacingAndGlyphs">i</tspan><tspan x="224.05" textLength="5.40" lengthAdjust="spacingAndGlyphs">d</tspan><tspan x="229.45" textLength="5.22" lengthAdjust="spacingAndGlyphs">a</tspan><tspan x="234.67" textLength="5.39" lengthAdjust="spacingAndGlyphs">n</tspan><tspan x="240.06" textLength="4.68" lengthAdjust="spacingAndGlyphs">c</tspan><tspan x="244.74" textLength="5.24" lengthAdjust="spacingAndGlyphs">e</tspan></text>
<text transform="matrix(1,0.0005,0,1,0,-0.0667)" y="344.50" font-size="9.4" font-weight="normal" font-style="italic" fill="#000" stroke="#000"><tspan x="116.57" textLength="5.46" lengthAdjust="spacingAndGlyphs">0</tspan><tspan x="122.03" textLength="2.73" lengthAdjust="spacingAndGlyphs">.</tspan><tspan x="124.76" textLength="5.46" lengthAdjust="spacingAndGlyphs">0</tspan><tspan x="130.21" textLength="5.46" lengthAdjust="spacingAndGlyphs">4</tspan><tspan x="135.67" textLength="5.46" lengthAdjust="spacingAndGlyphs">0</tspan> <tspan x="143.86" textLength="5.63" lengthAdjust="spacingAndGlyphs">K</tspan></text>
<text transform="matrix(1,0.0005,0,1,0,-0.0825)" y="416.20" font-size="9.4" font-weight="normal" font-style="italic" fill="#000" stroke="#000"><tspan x="148.43" textLength="5.35" lengthAdjust="spacingAndGlyphs">0</tspan><tspan x="153.78" textLength="2.67" lengthAdjust="spacingAndGlyphs">.</tspan><tspan x="156.45" textLength="5.35" lengthAdjust="spacingAndGlyphs">0</tspan><tspan x="161.80" textLength="5.35" lengthAdjust="spacingAndGlyphs">5</tspan><tspan x="167.16" textLength="5.35" lengthAdjust="spacingAndGlyphs">0</tspan> <tspan x="175.18" textLength="5.51" lengthAdjust="spacingAndGlyphs">K</tspan></text>
<text transform="matrix(1,0.0005,0,1,0,-0.0503)" y="419.70" font-size="8.3" font-weight="bold" font-style="normal" fill="#000" stroke="#000"><tspan x="93.36" textLength="3.87" lengthAdjust="spacingAndGlyphs">(</tspan><tspan x="97.23" textLength="6.55" lengthAdjust="spacingAndGlyphs">A</tspan><tspan x="103.77" textLength="3.87" lengthAdjust="spacingAndGlyphs">)</tspan></text>
<text transform="matrix(1,0.0005,0,1,0,-0.2622)" y="100.40" font-size="9.4" font-weight="normal" font-style="italic" fill="#800080" stroke="#800080"><tspan x="493.63" textLength="6.08" lengthAdjust="spacingAndGlyphs">C</tspan><tspan x="499.71" textLength="6.85" lengthAdjust="spacingAndGlyphs">O</tspan><tspan x="506.73" font-size="5.64">2</tspan> <tspan x="512.81" textLength="2.42" lengthAdjust="spacingAndGlyphs">i</tspan><tspan x="515.23" textLength="8.48" lengthAdjust="spacingAndGlyphs">m</tspan><tspan x="523.70" textLength="5.52" lengthAdjust="spacingAndGlyphs">p</tspan><tspan x="529.23" textLength="5.33" lengthAdjust="spacingAndGlyphs">a</tspan><tspan x="534.56" textLength="4.78" lengthAdjust="spacingAndGlyphs">c</tspan><tspan x="539.34" textLength="3.41" lengthAdjust="spacingAndGlyphs">t</tspan> <tspan x="545.52" textLength="5.32" lengthAdjust="spacingAndGlyphs">o</tspan><tspan x="550.84" textLength="3.06" lengthAdjust="spacingAndGlyphs">f</tspan></text>
<text transform="matrix(1,0.0005,0,1,0,-0.2679)" y="110.20" font-size="9.4" font-weight="normal" font-style="italic" fill="#800080" stroke="#800080"><tspan x="494.00" textLength="4.78" lengthAdjust="spacingAndGlyphs">c</tspan><tspan x="498.78" textLength="5.32" lengthAdjust="spacingAndGlyphs">a</tspan><tspan x="504.10" textLength="3.57" lengthAdjust="spacingAndGlyphs">r</tspan><tspan x="507.67" textLength="5.52" lengthAdjust="spacingAndGlyphs">b</tspan><tspan x="513.19" textLength="5.32" lengthAdjust="spacingAndGlyphs">o</tspan><tspan x="518.51" textLength="5.51" lengthAdjust="spacingAndGlyphs">n</tspan> <tspan x="526.78" textLength="5.51" lengthAdjust="spacingAndGlyphs">n</tspan><tspan x="532.28" textLength="5.35" lengthAdjust="spacingAndGlyphs">e</tspan><tspan x="537.63" textLength="5.51" lengthAdjust="spacingAndGlyphs">u</tspan><tspan x="543.14" textLength="3.41" lengthAdjust="spacingAndGlyphs">t</tspan><tspan x="546.54" textLength="3.57" lengthAdjust="spacingAndGlyphs">r</tspan><tspan x="550.12" textLength="5.32" lengthAdjust="spacingAndGlyphs">a</tspan><tspan x="555.44" textLength="2.41" lengthAdjust="spacingAndGlyphs">l</tspan> <tspan x="560.62" textLength="3.06" lengthAdjust="spacingAndGlyphs">f</tspan><tspan x="563.68" textLength="5.51" lengthAdjust="spacingAndGlyphs">u</tspan><tspan x="569.18" textLength="5.35" lengthAdjust="spacingAndGlyphs">e</tspan><tspan x="574.53" textLength="2.41" lengthAdjust="spacingAndGlyphs">l</tspan></text>
<text transform="matrix(1,0.0005,0,1,0,-0.2995)" y="173.50" font-size="9.4" font-weight="normal" font-style="italic" fill="#000" stroke="#000"><tspan x="581.91" textLength="5.56" lengthAdjust="spacingAndGlyphs">0</tspan><tspan x="587.48" textLength="2.78" lengthAdjust="spacingAndGlyphs">.</tspan><tspan x="590.26" textLength="5.56" lengthAdjust="spacingAndGlyphs">0</tspan><tspan x="595.82" textLength="5.56" lengthAdjust="spacingAndGlyphs">8</tspan><tspan x="601.39" textLength="5.56" lengthAdjust="spacingAndGlyphs">7</tspan> <tspan x="609.73" textLength="5.74" lengthAdjust="spacingAndGlyphs">K</tspan></text>
<text transform="matrix(1,0.0005,0,1,0,-0.2789)" y="223.70" font-size="9.4" font-weight="normal" font-style="italic" fill="#800080" stroke="#800080"><tspan x="517.65" textLength="4.79" lengthAdjust="spacingAndGlyphs">c</tspan><tspan x="522.44" textLength="5.33" lengthAdjust="spacingAndGlyphs">o</tspan><tspan x="527.76" textLength="5.52" lengthAdjust="spacingAndGlyphs">n</tspan><tspan x="533.28" textLength="3.41" lengthAdjust="spacingAndGlyphs">t</tspan><tspan x="536.70" textLength="3.58" lengthAdjust="spacingAndGlyphs">r</tspan><tspan x="540.28" textLength="5.34" lengthAdjust="spacingAndGlyphs">a</tspan><tspan x="545.62" textLength="2.42" lengthAdjust="spacingAndGlyphs">i</tspan><tspan x="548.03" textLength="2.42" lengthAdjust="spacingAndGlyphs">l</tspan> <tspan x="553.22" textLength="5.34" lengthAdjust="spacingAndGlyphs">a</tspan><tspan x="558.56" textLength="5.15" lengthAdjust="spacingAndGlyphs">v</tspan><tspan x="563.71" textLength="5.33" lengthAdjust="spacingAndGlyphs">o</tspan><tspan x="569.04" textLength="2.42" lengthAdjust="spacingAndGlyphs">i</tspan><tspan x="571.46" textLength="5.53" lengthAdjust="spacingAndGlyphs">d</tspan><tspan x="576.99" textLength="5.34" lengthAdjust="spacingAndGlyphs">a</tspan><tspan x="582.32" textLength="5.52" lengthAdjust="spacingAndGlyphs">n</tspan><tspan x="587.84" textLength="4.79" lengthAdjust="spacingAndGlyphs">c</tspan><tspan x="592.63" textLength="5.36" lengthAdjust="spacingAndGlyphs">e</tspan></text>
<text transform="matrix(1,0.0005,0,1,0,-0.2641)" y="258.70" font-size="9.4" font-weight="normal" font-style="italic" fill="#000" stroke="#000"><tspan x="508.42" textLength="5.51" lengthAdjust="spacingAndGlyphs">0</tspan><tspan x="513.93" textLength="2.75" lengthAdjust="spacingAndGlyphs">.</tspan><tspan x="516.69" textLength="5.51" lengthAdjust="spacingAndGlyphs">0</tspan><tspan x="522.20" textLength="5.51" lengthAdjust="spacingAndGlyphs">4</tspan><tspan x="527.71" textLength="5.51" lengthAdjust="spacingAndGlyphs">2</tspan><tspan x="533.23" textLength="5.51" lengthAdjust="spacingAndGlyphs">9</tspan> <tspan x="541.49" textLength="5.68" lengthAdjust="spacingAndGlyphs">K</tspan></text>
<text transform="matrix(1,0.0005,0,1,0,-0.2718)" y="283.80" font-size="9.4" font-weight="normal" font-style="italic" fill="#800080" stroke="#800080"><tspan x="510.30" textLength="4.80" lengthAdjust="spacingAndGlyphs">c</tspan><tspan x="515.10" textLength="5.34" lengthAdjust="spacingAndGlyphs">o</tspan><tspan x="520.44" textLength="5.53" lengthAdjust="spacingAndGlyphs">n</tspan><tspan x="525.97" textLength="3.42" lengthAdjust="spacingAndGlyphs">t</tspan><tspan x="529.39" textLength="3.59" lengthAdjust="spacingAndGlyphs">r</tspan><tspan x="532.98" textLength="5.35" lengthAdjust="spacingAndGlyphs">a</tspan><tspan x="538.33" textLength="2.42" lengthAdjust="spacingAndGlyphs">i</tspan><tspan x="540.75" textLength="2.42" lengthAdjust="spacingAndGlyphs">l</tspan> <tspan x="545.95" textLength="2.42" lengthAdjust="spacingAndGlyphs">i</tspan><tspan x="548.37" textLength="8.50" lengthAdjust="spacingAndGlyphs">m</tspan><tspan x="556.88" textLength="5.54" lengthAdjust="spacingAndGlyphs">p</tspan><tspan x="562.42" textLength="5.35" lengthAdjust="spacingAndGlyphs">a</tspan><tspan x="567.76" textLength="4.80" lengthAdjust="spacingAndGlyphs">c</tspan><tspan x="572.56" textLength="3.42" lengthAdjust="spacingAndGlyphs">t</tspan></text>
<text transform="matrix(1,0.0005,0,1,0,-0.2726)" y="293.50" font-size="9.4" font-weight="normal" font-style="italic" fill="#800080" stroke="#800080"><tspan x="510.45" textLength="5.36" lengthAdjust="spacingAndGlyphs">o</tspan><tspan x="515.81" textLength="3.08" lengthAdjust="spacingAndGlyphs">f</tspan> <tspan x="521.68" textLength="8.54" lengthAdjust="spacingAndGlyphs">m</tspan><tspan x="530.21" textLength="5.36" lengthAdjust="spacingAndGlyphs">o</tspan><tspan x="535.58" textLength="5.56" lengthAdjust="spacingAndGlyphs">d</tspan><tspan x="541.14" textLength="2.43" lengthAdjust="spacingAndGlyphs">i</tspan><tspan x="543.57" textLength="3.08" lengthAdjust="spacingAndGlyphs">f</tspan><tspan x="546.66" textLength="2.43" lengthAdjust="spacingAndGlyphs">i</tspan><tspan x="549.09" textLength="5.39" lengthAdjust="spacingAndGlyphs">e</tspan><tspan x="554.48" textLength="5.56" lengthAdjust="spacingAndGlyphs">d</tspan> <tspan x="562.83" textLength="3.08" lengthAdjust="spacingAndGlyphs">f</tspan><tspan x="565.91" textLength="5.55" lengthAdjust="spacingAndGlyphs">u</tspan><tspan x="571.47" textLength="5.39" lengthAdjust="spacingAndGlyphs">e</tspan><tspan x="576.86" textLength="2.43" lengthAdjust="spacingAndGlyphs">l</tspan></text>
<text transform="matrix(1,0.0005,0,1,0,-0.2370)" y="353.60" font-size="9.4" font-weight="normal" font-style="italic" fill="#000" stroke="#000"><tspan x="456.56" textLength="5.66" lengthAdjust="spacingAndGlyphs">0</tspan><tspan x="462.21" textLength="2.83" lengthAdjust="spacingAndGlyphs">.</tspan><tspan x="465.04" textLength="5.66" lengthAdjust="spacingAndGlyphs">0</tspan><tspan x="470.69" textLength="5.66" lengthAdjust="spacingAndGlyphs">3</tspan><tspan x="476.35" textLength="5.66" lengthAdjust="spacingAndGlyphs">3</tspan> <tspan x="484.83" textLength="5.83" lengthAdjust="spacingAndGlyphs">K</tspan></text>
<text transform="matrix(1,0.0005,0,1,0,-0.2544)" y="416.80" font-size="9.4" font-weight="normal" font-style="italic" fill="#000" stroke="#000"><tspan x="489.12" textLength="5.53" lengthAdjust="spacingAndGlyphs">0</tspan><tspan x="494.65" textLength="2.77" lengthAdjust="spacingAndGlyphs">.</tspan><tspan x="497.42" textLength="5.53" lengthAdjust="spacingAndGlyphs">0</tspan><tspan x="502.95" textLength="5.53" lengthAdjust="spacingAndGlyphs">4</tspan><tspan x="508.49" textLength="5.53" lengthAdjust="spacingAndGlyphs">2</tspan><tspan x="514.02" textLength="5.53" lengthAdjust="spacingAndGlyphs">2</tspan> <tspan x="522.32" textLength="5.70" lengthAdjust="spacingAndGlyphs">K</tspan></text>
<text transform="matrix(1,0.0005,0,1,0,-0.2258)" y="419.70" font-size="8.3" font-weight="bold" font-style="normal" fill="#000" stroke="#000"><tspan x="444.35" textLength="3.90" lengthAdjust="spacingAndGlyphs">(</tspan><tspan x="448.25" textLength="6.50" lengthAdjust="spacingAndGlyphs">B</tspan><tspan x="454.75" textLength="3.90" lengthAdjust="spacingAndGlyphs">)</tspan></text>
<text transform="matrix(1,0.0005,0,1,0,-0.3287)" y="419.80" font-size="8.3" font-weight="bold" font-style="normal" fill="#000" stroke="#000"><tspan x="635.11" textLength="6.72" lengthAdjust="spacingAndGlyphs">A</tspan><tspan x="641.83" textLength="7.13" lengthAdjust="spacingAndGlyphs">G</tspan><tspan x="648.95" textLength="6.36" lengthAdjust="spacingAndGlyphs">P</tspan> <tspan x="658.34" textLength="6.04" lengthAdjust="spacingAndGlyphs">0</tspan><tspan x="664.38" textLength="3.30" lengthAdjust="spacingAndGlyphs">.</tspan><tspan x="667.68" textLength="6.04" lengthAdjust="spacingAndGlyphs">2</tspan><tspan x="673.72" textLength="6.04" lengthAdjust="spacingAndGlyphs">9</tspan></text>
<text transform="matrix(1,0.0005,0,1,0,-0.1044)" y="447.90" font-size="9.2" font-weight="bold" font-style="normal" fill="#000" stroke="#000"><tspan x="132.48" textLength="6.95" lengthAdjust="spacingAndGlyphs">G</tspan><tspan x="139.42" textLength="2.90" lengthAdjust="spacingAndGlyphs">l</tspan><tspan x="142.33" textLength="5.81" lengthAdjust="spacingAndGlyphs">o</tspan><tspan x="148.14" textLength="6.06" lengthAdjust="spacingAndGlyphs">b</tspan><tspan x="154.20" textLength="5.71" lengthAdjust="spacingAndGlyphs">a</tspan><tspan x="159.91" textLength="2.90" lengthAdjust="spacingAndGlyphs">l</tspan> <tspan x="165.76" textLength="5.04" lengthAdjust="spacingAndGlyphs">s</tspan><tspan x="170.79" textLength="6.03" lengthAdjust="spacingAndGlyphs">u</tspan><tspan x="176.82" textLength="4.17" lengthAdjust="spacingAndGlyphs">r</tspan><tspan x="180.99" textLength="3.68" lengthAdjust="spacingAndGlyphs">f</tspan><tspan x="184.67" textLength="5.71" lengthAdjust="spacingAndGlyphs">a</tspan><tspan x="190.39" textLength="5.02" lengthAdjust="spacingAndGlyphs">c</tspan><tspan x="195.40" textLength="5.74" lengthAdjust="spacingAndGlyphs">e</tspan> <tspan x="204.09" textLength="4.05" lengthAdjust="spacingAndGlyphs">t</tspan><tspan x="208.13" textLength="5.74" lengthAdjust="spacingAndGlyphs">e</tspan><tspan x="213.87" textLength="8.82" lengthAdjust="spacingAndGlyphs">m</tspan><tspan x="222.69" textLength="6.06" lengthAdjust="spacingAndGlyphs">p</tspan><tspan x="228.75" textLength="5.74" lengthAdjust="spacingAndGlyphs">e</tspan><tspan x="234.49" textLength="4.17" lengthAdjust="spacingAndGlyphs">r</tspan><tspan x="238.67" textLength="5.71" lengthAdjust="spacingAndGlyphs">a</tspan><tspan x="244.38" textLength="4.05" lengthAdjust="spacingAndGlyphs">t</tspan><tspan x="248.42" textLength="6.03" lengthAdjust="spacingAndGlyphs">u</tspan><tspan x="254.45" textLength="4.17" lengthAdjust="spacingAndGlyphs">r</tspan><tspan x="258.62" textLength="5.74" lengthAdjust="spacingAndGlyphs">e</tspan> <tspan x="267.31" textLength="4.17" lengthAdjust="spacingAndGlyphs">r</tspan><tspan x="271.48" textLength="2.90" lengthAdjust="spacingAndGlyphs">i</tspan><tspan x="274.38" textLength="5.04" lengthAdjust="spacingAndGlyphs">s</tspan><tspan x="279.42" textLength="5.74" lengthAdjust="spacingAndGlyphs">e</tspan></text>
<text transform="matrix(1,0.0005,0,1,0,-0.1044)" y="457.50" font-size="9.2" font-weight="bold" font-style="normal" fill="#000" stroke="#000"><tspan x="181.97" textLength="2.96" lengthAdjust="spacingAndGlyphs">i</tspan><tspan x="184.93" textLength="6.14" lengthAdjust="spacingAndGlyphs">n</tspan> <tspan x="194.07" textLength="6.00" lengthAdjust="spacingAndGlyphs">2</tspan><tspan x="200.07" textLength="6.00" lengthAdjust="spacingAndGlyphs">0</tspan><tspan x="206.07" textLength="6.00" lengthAdjust="spacingAndGlyphs">5</tspan><tspan x="212.07" textLength="6.00" lengthAdjust="spacingAndGlyphs">0</tspan> <tspan x="221.08" textLength="3.94" lengthAdjust="spacingAndGlyphs">(</tspan><tspan x="225.02" textLength="6.68" lengthAdjust="spacingAndGlyphs">K</tspan><tspan x="231.70" textLength="3.94" lengthAdjust="spacingAndGlyphs">)</tspan></text>
<text transform="matrix(1,0.0005,0,1,0,-0.2802)" y="447.90" font-size="9.2" font-weight="bold" font-style="normal" fill="#000" stroke="#000"><tspan x="481.51" textLength="7.18" lengthAdjust="spacingAndGlyphs">G</tspan><tspan x="488.70" textLength="3.00" lengthAdjust="spacingAndGlyphs">l</tspan><tspan x="491.69" textLength="6.01" lengthAdjust="spacingAndGlyphs">o</tspan><tspan x="497.71" textLength="6.26" lengthAdjust="spacingAndGlyphs">b</tspan><tspan x="503.97" textLength="5.90" lengthAdjust="spacingAndGlyphs">a</tspan><tspan x="509.87" textLength="3.00" lengthAdjust="spacingAndGlyphs">l</tspan> <tspan x="515.92" textLength="5.21" lengthAdjust="spacingAndGlyphs">s</tspan><tspan x="521.13" textLength="6.23" lengthAdjust="spacingAndGlyphs">u</tspan><tspan x="527.36" textLength="4.32" lengthAdjust="spacingAndGlyphs">r</tspan><tspan x="531.67" textLength="3.81" lengthAdjust="spacingAndGlyphs">f</tspan><tspan x="535.48" textLength="5.90" lengthAdjust="spacingAndGlyphs">a</tspan><tspan x="541.39" textLength="5.19" lengthAdjust="spacingAndGlyphs">c</tspan><tspan x="546.57" textLength="5.93" lengthAdjust="spacingAndGlyphs">e</tspan> <tspan x="555.55" textLength="4.18" lengthAdjust="spacingAndGlyphs">t</tspan><tspan x="559.74" textLength="5.93" lengthAdjust="spacingAndGlyphs">e</tspan><tspan x="565.67" textLength="9.12" lengthAdjust="spacingAndGlyphs">m</tspan><tspan x="574.79" textLength="6.26" lengthAdjust="spacingAndGlyphs">p</tspan><tspan x="581.05" textLength="5.93" lengthAdjust="spacingAndGlyphs">e</tspan><tspan x="586.99" textLength="4.32" lengthAdjust="spacingAndGlyphs">r</tspan><tspan x="591.30" textLength="5.90" lengthAdjust="spacingAndGlyphs">a</tspan><tspan x="597.21" textLength="4.18" lengthAdjust="spacingAndGlyphs">t</tspan><tspan x="601.39" textLength="6.23" lengthAdjust="spacingAndGlyphs">u</tspan><tspan x="607.62" textLength="4.32" lengthAdjust="spacingAndGlyphs">r</tspan><tspan x="611.93" textLength="5.93" lengthAdjust="spacingAndGlyphs">e</tspan> <tspan x="620.92" textLength="4.32" lengthAdjust="spacingAndGlyphs">r</tspan><tspan x="625.23" textLength="3.00" lengthAdjust="spacingAndGlyphs">i</tspan><tspan x="628.23" textLength="5.21" lengthAdjust="spacingAndGlyphs">s</tspan><tspan x="633.44" textLength="5.93" lengthAdjust="spacingAndGlyphs">e</tspan></text>
<text transform="matrix(1,0.0005,0,1,0,-0.2802)" y="457.50" font-size="9.2" font-weight="bold" font-style="normal" fill="#000" stroke="#000"><tspan x="533.12" textLength="2.98" lengthAdjust="spacingAndGlyphs">i</tspan><tspan x="536.10" textLength="6.20" lengthAdjust="spacingAndGlyphs">n</tspan> <tspan x="545.33" textLength="6.06" lengthAdjust="spacingAndGlyphs">2</tspan><tspan x="551.39" textLength="6.06" lengthAdjust="spacingAndGlyphs">0</tspan><tspan x="557.45" textLength="6.06" lengthAdjust="spacingAndGlyphs">5</tspan><tspan x="563.51" textLength="6.06" lengthAdjust="spacingAndGlyphs">0</tspan> <tspan x="572.60" textLength="3.98" lengthAdjust="spacingAndGlyphs">(</tspan><tspan x="576.57" textLength="6.75" lengthAdjust="spacingAndGlyphs">K</tspan><tspan x="583.32" textLength="3.98" lengthAdjust="spacingAndGlyphs">)</tspan></text>
<text transform="matrix(1,0.0005,0,1,0,-0.0428)" y="437.50" font-size="9.4" font-weight="normal" font-style="normal" fill="#000" stroke="#000"><tspan x="76.13" textLength="5.35" lengthAdjust="spacingAndGlyphs">0</tspan><tspan x="81.49" textLength="2.68" lengthAdjust="spacingAndGlyphs">.</tspan><tspan x="84.16" textLength="5.35" lengthAdjust="spacingAndGlyphs">0</tspan><tspan x="89.52" textLength="5.35" lengthAdjust="spacingAndGlyphs">0</tspan></text>
<text transform="matrix(1,0.0005,0,1,0,-0.2178)" y="437.40" font-size="9.4" font-weight="normal" font-style="normal" fill="#000" stroke="#000"><tspan x="426.28" textLength="5.35" lengthAdjust="spacingAndGlyphs">0</tspan><tspan x="431.64" textLength="2.68" lengthAdjust="spacingAndGlyphs">.</tspan><tspan x="434.31" textLength="5.35" lengthAdjust="spacingAndGlyphs">0</tspan><tspan x="439.67" textLength="5.35" lengthAdjust="spacingAndGlyphs">0</tspan></text>
<text transform="matrix(1,0.0005,0,1,0,-0.0584)" y="437.50" font-size="9.4" font-weight="normal" font-style="normal" fill="#000" stroke="#000"><tspan x="107.41" textLength="5.44" lengthAdjust="spacingAndGlyphs">0</tspan><tspan x="112.85" textLength="2.72" lengthAdjust="spacingAndGlyphs">.</tspan><tspan x="115.57" textLength="5.44" lengthAdjust="spacingAndGlyphs">0</tspan><tspan x="121.01" textLength="5.44" lengthAdjust="spacingAndGlyphs">2</tspan></text>
<text transform="matrix(1,0.0005,0,1,0,-0.2345)" y="437.40" font-size="9.4" font-weight="normal" font-style="normal" fill="#000" stroke="#000"><tspan x="459.49" textLength="5.44" lengthAdjust="spacingAndGlyphs">0</tspan><tspan x="464.93" textLength="2.72" lengthAdjust="spacingAndGlyphs">.</tspan><tspan x="467.65" textLength="5.44" lengthAdjust="spacingAndGlyphs">0</tspan><tspan x="473.09" textLength="5.44" lengthAdjust="spacingAndGlyphs">2</tspan></text>
<text transform="matrix(1,0.0005,0,1,0,-0.0741)" y="437.50" font-size="9.4" font-weight="normal" font-style="normal" fill="#000" stroke="#000"><tspan x="138.70" textLength="5.40" lengthAdjust="spacingAndGlyphs">0</tspan><tspan x="144.10" textLength="2.70" lengthAdjust="spacingAndGlyphs">.</tspan><tspan x="146.79" textLength="5.40" lengthAdjust="spacingAndGlyphs">0</tspan><tspan x="152.19" textLength="5.40" lengthAdjust="spacingAndGlyphs">4</tspan></text>
<text transform="matrix(1,0.0005,0,1,0,-0.2511)" y="437.40" font-size="9.4" font-weight="normal" font-style="normal" fill="#000" stroke="#000"><tspan x="492.70" textLength="5.40" lengthAdjust="spacingAndGlyphs">0</tspan><tspan x="498.10" textLength="2.70" lengthAdjust="spacingAndGlyphs">.</tspan><tspan x="500.80" textLength="5.40" lengthAdjust="spacingAndGlyphs">0</tspan><tspan x="506.20" textLength="5.40" lengthAdjust="spacingAndGlyphs">4</tspan></text>
<text transform="matrix(1,0.0005,0,1,0,-0.0898)" y="437.50" font-size="9.4" font-weight="normal" font-style="normal" fill="#000" stroke="#000"><tspan x="170.22" textLength="5.42" lengthAdjust="spacingAndGlyphs">0</tspan><tspan x="175.64" textLength="2.71" lengthAdjust="spacingAndGlyphs">.</tspan><tspan x="178.35" textLength="5.42" lengthAdjust="spacingAndGlyphs">0</tspan><tspan x="183.76" textLength="5.42" lengthAdjust="spacingAndGlyphs">6</tspan></text>
<text transform="matrix(1,0.0005,0,1,0,-0.2677)" y="437.40" font-size="9.4" font-weight="normal" font-style="normal" fill="#000" stroke="#000"><tspan x="525.91" textLength="5.42" lengthAdjust="spacingAndGlyphs">0</tspan><tspan x="531.33" textLength="2.71" lengthAdjust="spacingAndGlyphs">.</tspan><tspan x="534.04" textLength="5.42" lengthAdjust="spacingAndGlyphs">0</tspan><tspan x="539.45" textLength="5.42" lengthAdjust="spacingAndGlyphs">6</tspan></text>
<text transform="matrix(1,0.0005,0,1,0,-0.1055)" y="437.50" font-size="9.4" font-weight="normal" font-style="normal" fill="#000" stroke="#000"><tspan x="201.50" textLength="5.43" lengthAdjust="spacingAndGlyphs">0</tspan><tspan x="206.93" textLength="2.71" lengthAdjust="spacingAndGlyphs">.</tspan><tspan x="209.65" textLength="5.43" lengthAdjust="spacingAndGlyphs">0</tspan><tspan x="215.08" textLength="5.43" lengthAdjust="spacingAndGlyphs">8</tspan></text>
<text transform="matrix(1,0.0005,0,1,0,-0.2843)" y="437.40" font-size="9.4" font-weight="normal" font-style="normal" fill="#000" stroke="#000"><tspan x="559.12" textLength="5.43" lengthAdjust="spacingAndGlyphs">0</tspan><tspan x="564.55" textLength="2.71" lengthAdjust="spacingAndGlyphs">.</tspan><tspan x="567.27" textLength="5.43" lengthAdjust="spacingAndGlyphs">0</tspan><tspan x="572.70" textLength="5.43" lengthAdjust="spacingAndGlyphs">8</tspan></text>
<text transform="matrix(1,0.0005,0,1,0,-0.1212)" y="437.50" font-size="9.4" font-weight="normal" font-style="normal" fill="#000" stroke="#000"><tspan x="233.03" textLength="5.35" lengthAdjust="spacingAndGlyphs">0</tspan><tspan x="238.39" textLength="2.68" lengthAdjust="spacingAndGlyphs">.</tspan><tspan x="241.06" textLength="5.35" lengthAdjust="spacingAndGlyphs">1</tspan><tspan x="246.42" textLength="5.35" lengthAdjust="spacingAndGlyphs">0</tspan></text>
<text transform="matrix(1,0.0005,0,1,0,-0.3009)" y="437.40" font-size="9.4" font-weight="normal" font-style="normal" fill="#000" stroke="#000"><tspan x="592.33" textLength="5.43" lengthAdjust="spacingAndGlyphs">0</tspan><tspan x="597.76" textLength="2.71" lengthAdjust="spacingAndGlyphs">.</tspan><tspan x="600.47" textLength="5.43" lengthAdjust="spacingAndGlyphs">1</tspan><tspan x="605.90" textLength="5.43" lengthAdjust="spacingAndGlyphs">0</tspan></text>
<text transform="matrix(1,0.0005,0,1,0,-0.1369)" y="437.50" font-size="9.4" font-weight="normal" font-style="normal" fill="#000" stroke="#000"><tspan x="264.31" textLength="5.44" lengthAdjust="spacingAndGlyphs">0</tspan><tspan x="269.75" textLength="2.72" lengthAdjust="spacingAndGlyphs">.</tspan><tspan x="272.47" textLength="5.44" lengthAdjust="spacingAndGlyphs">1</tspan><tspan x="277.91" textLength="5.44" lengthAdjust="spacingAndGlyphs">2</tspan></text>
<text transform="matrix(1,0.0005,0,1,0,-0.3175)" y="437.40" font-size="9.4" font-weight="normal" font-style="normal" fill="#000" stroke="#000"><tspan x="625.54" textLength="5.44" lengthAdjust="spacingAndGlyphs">0</tspan><tspan x="630.98" textLength="2.72" lengthAdjust="spacingAndGlyphs">.</tspan><tspan x="633.70" textLength="5.44" lengthAdjust="spacingAndGlyphs">1</tspan><tspan x="639.14" textLength="5.44" lengthAdjust="spacingAndGlyphs">2</tspan></text>
<text transform="matrix(1,0.0005,0,1,0,-0.1526)" y="437.50" font-size="9.4" font-weight="normal" font-style="normal" fill="#000" stroke="#000"><tspan x="295.85" textLength="5.33" lengthAdjust="spacingAndGlyphs">0</tspan><tspan x="301.17" textLength="2.66" lengthAdjust="spacingAndGlyphs">.</tspan><tspan x="303.84" textLength="5.33" lengthAdjust="spacingAndGlyphs">1</tspan><tspan x="309.16" textLength="5.33" lengthAdjust="spacingAndGlyphs">4</tspan></text>
<text transform="matrix(1,0.0005,0,1,0,-0.3342)" y="437.40" font-size="9.4" font-weight="normal" font-style="normal" fill="#000" stroke="#000"><tspan x="658.76" textLength="5.40" lengthAdjust="spacingAndGlyphs">0</tspan><tspan x="664.16" textLength="2.70" lengthAdjust="spacingAndGlyphs">.</tspan><tspan x="666.85" textLength="5.40" lengthAdjust="spacingAndGlyphs">1</tspan><tspan x="672.25" textLength="5.40" lengthAdjust="spacingAndGlyphs">4</tspan></text></svg>
</body></html>
